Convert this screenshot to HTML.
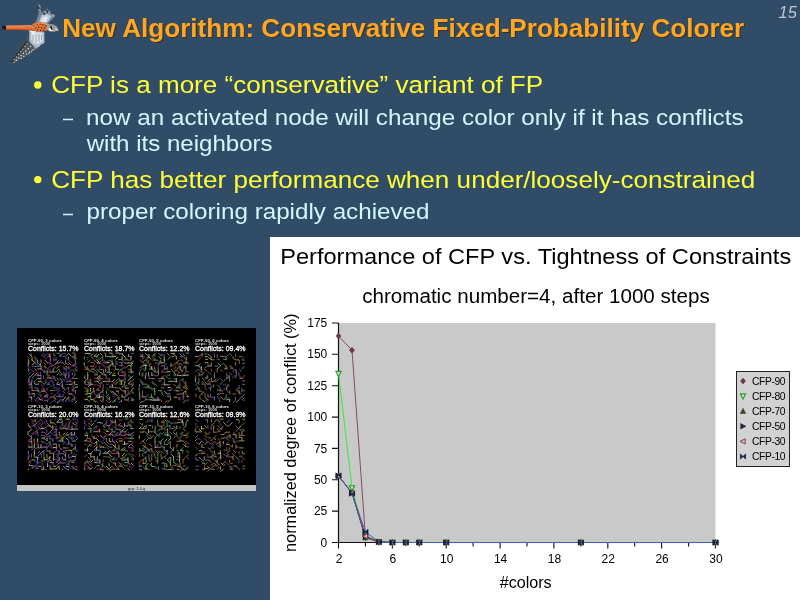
<!DOCTYPE html>
<html><head><meta charset="utf-8"><title>New Algorithm: Conservative Fixed-Probability Colorer</title>
<style>
html,body{margin:0;padding:0}
body{width:800px;height:600px;background:#314c66;overflow:hidden;position:relative;font-family:"Liberation Sans",sans-serif}
.bird{position:absolute;left:0;top:0}
.ov{position:absolute;left:0;top:0}
svg{will-change:transform}
.shot{position:absolute;left:17px;top:328px;width:239px;height:163px;background:#000}
.shot svg{position:absolute;left:0;top:0}
.bar{position:absolute;left:0;top:157px;width:239px;height:6px;background:#c4c4c4}
.chart{position:absolute;left:270px;top:237px;width:530px;height:363px;background:#fff;}
.chart svg{position:absolute;left:0;top:0}
</style></head><body>

<svg class="bird" width="66" height="68" viewBox="0 0 66 68">
<defs><filter id="bl" x="-10%" y="-10%" width="120%" height="120%"><feGaussianBlur stdDeviation=".45"/></filter></defs>
<g filter="url(#bl)">
<!-- lower wing -->
<path d="M30 32.5 L44.5 37 L43.5 41 L38.5 47 L31 53 L21 59.5 L11.5 64.5 L9.6 63.2 L14 56 L20 47 L26 39 Z" fill="#4d545c"/>
<path d="M29.3 30.5 L44.3 32 L44.5 43 L41 44.8 L38 47.5 L34 46.5 L29.3 41.5 Z" fill="#aebccb"/>
<path d="M31.5 32 L42.5 33 L42.8 41 L38 44 L33.5 43 L31.2 39 Z" fill="#dde5ec"/>
<path d="M33 35 l0 7 M36 34 l0 9 M39 34 l0 8 M41.5 35 l0 5" stroke="#8fa0b2" stroke-width=".9" fill="none"/>
<path d="M27 41 L11 62.5" stroke="#23272c" stroke-width="1.6" fill="none" opacity=".8"/>
<path d="M31 46 L14 62.5" stroke="#ece9e0" stroke-width="1.3" stroke-dasharray="1.3 2" fill="none"/>
<path d="M35.5 47.5 L19 60" stroke="#ece9e0" stroke-width="1.2" stroke-dasharray="1.2 2.3" fill="none"/>
<path d="M27.5 43.5 L13 61" stroke="#d8d8d0" stroke-width="1.1" stroke-dasharray="1 2.4" fill="none"/>
<path d="M39.5 45.5 L28 54.5" stroke="#cfd3d6" stroke-width="1.1" stroke-dasharray="1.1 2.1" fill="none"/>
<!-- upper wing -->
<path d="M35.5 23.5 L38.8 13 L37.3 3.3 L40 5 L42 10 L44.5 12.5 L46.5 8.3 L48.6 11.5 L51 10.5 L52.6 13.5 L55.3 15.6 L52 19.6 L47.5 24 Z" fill="#77879a"/>
<path d="M38.5 23 L41.5 15.5 L46 13.8 L51.5 16 L48.5 21 L45 24 Z" fill="#bfccd9"/>
<path d="M41 22 L43.5 17 L48 16.5 L46 21.5 Z" fill="#e3eaf0"/>
<path d="M38 4.5l1.2 5M40.5 8.5l2 3.5M46.8 9.2l.8 3.6M43.2 13l2 1.6M51 11.5l1 2.5" stroke="#2c3238" stroke-width="1.4" fill="none"/>
<path d="M38.8 5.4l.7 .9M39.6 9.5l.8 1M44.2 11.4l.9 1M48.8 12.6l.9 .9M52.6 15.6l1 .6M47.6 9.6l.5 .8" stroke="#f2f4f8" stroke-width="1" fill="none"/>
<!-- tail -->
<path d="M3 25.8 L33 25.3 L33 30.2 L3 29.6 Z" fill="#e8733a"/>
<path d="M5 26.3 L33 25.8" stroke="#f59a58" stroke-width="1" fill="none"/>
<path d="M5 29.3 L33 29.9" stroke="#b04a26" stroke-width="1.1" fill="none"/>
<path d="M2.4 25.7 L6 25.8 L6 29.8 L2.4 29.6 Z" fill="#17151a"/>
<!-- body -->
<ellipse cx="40" cy="27" rx="9.2" ry="4.9" fill="#de7536"/>
<path d="M33 27.5 Q40 20.5 48 25" stroke="#f0a268" stroke-width="1.2" fill="none"/>
<path d="M33.5 26h1.2M36.5 24.8h1.2M39.5 24.2h1.2M42.5 24.6h1.2M45.3 25.6h1.2M35 28.2h1.2M38 27.4h1.2M41 27.6h1.2M44 28h1.2M36.8 30.2h1.2M40 30.3h1.2M43 30.2h1.2" stroke="#4a2418" stroke-width="1.2" fill="none"/>
<!-- head -->
<path d="M47 23.6 L53 24.2 L57 26.6 L58.3 29.8 L55 31.8 L50 31.4 L46.8 29.8 Z" fill="#a49e98"/>
<path d="M48.2 24 L53 24.5 L55 26 L50 26.5 Z" fill="#7f8ea0"/>
<path d="M48.6 28 L53 28.4 L52.5 31.2 L49 30.8 Z" fill="#f4f4f4"/>
<path d="M50.6 26.4 l1.6 3.4" stroke="#17171c" stroke-width="1.5" fill="none"/>
<path d="M55 29 l3.2 1.4" stroke="#ddd6c6" stroke-width="1.3" fill="none"/>
<path d="M28.5 30.3 L36 31.6 L32.5 33.2 Z" fill="#f6f1ea"/>
</g>
</svg>
<svg class="ov" width="800" height="600" viewBox="0 0 800 600" font-family="Liberation Sans, sans-serif">
<text x="63.35" y="38.35" font-size="25" fill="#3a332b" font-weight="bold" textLength="682.03" lengthAdjust="spacingAndGlyphs">New Algorithm: Conservative Fixed-Probability Colorer</text>
<text id="title" x="62.25" y="37.25" font-size="25" fill="#ffa622" font-weight="bold" textLength="682.03" lengthAdjust="spacingAndGlyphs">New Algorithm: Conservative Fixed-Probability Colorer</text>
<text id="b1" x="51.24" y="93.4" font-size="24.5" fill="#ffff38"  textLength="491.94" lengthAdjust="spacingAndGlyphs">CFP is a more “conservative” variant of FP</text>
<text id="b2" x="86.08" y="124.5" font-size="22" fill="#d2f8ff"  textLength="657.52" lengthAdjust="spacingAndGlyphs">now an activated node will change color only if it has conflicts</text>
<text id="b2b" x="86.72" y="151" font-size="22" fill="#d2f8ff"  textLength="185.88" lengthAdjust="spacingAndGlyphs">with its neighbors</text>
<text id="b3" x="51.24" y="187.5" font-size="24.5" fill="#ffff38"  textLength="704.02" lengthAdjust="spacingAndGlyphs">CFP has better performance when under/loosely-constrained</text>
<text id="b4" x="86.50" y="219" font-size="22" fill="#d2f8ff"  textLength="343.00" lengthAdjust="spacingAndGlyphs">proper coloring rapidly achieved</text>
<circle cx="37.8" cy="85" r="3.7" fill="#ffff38"/><circle cx="37.8" cy="179.6" r="3.7" fill="#ffff38"/>
<path d="M63 119.5h10M63 214.5h10" stroke="#d2f8ff" stroke-width="1.6"/>
<text x="778.5" y="18" font-size="16.5" font-style="italic" fill="#bcc6d6">15</text>
</svg>

<div class="shot">
<svg width="239" height="163" viewBox="0 0 239 163" font-family="Liberation Sans, sans-serif">
<g fill="none" stroke-linecap="butt" opacity=".92"><path d="M24.4 28.1L27.4 25.1M42.0 28.1L45.5 28.1M17.9 34.7L20.9 37.7M11.7 37.8L11.7 41.8M45.9 41.0L49.4 41.0M36.8 56.0L36.8 59.5M36.7 62.4L39.7 62.4M42.8 71.8L46.3 71.8" stroke="#6080f0" stroke-width="1.7" opacity=".42"/>
<path d="M35.9 25.6L38.4 28.1M17.2 28.6L20.2 31.6M36.0 32.0L39.5 32.0M27.4 41.4L27.4 44.9M30.1 47.7L33.1 47.7M45.9 46.7L49.9 46.7M52.3 53.5L55.3 53.5M21.1 62.3L23.6 64.8" stroke="#f0a0c0" stroke-width="1.7" opacity=".42"/>
<path d="M54.9 25.2L58.4 25.2M36.3 41.1L38.8 38.6M46.0 38.3L49.0 41.3M33.0 41.1L33.0 45.1M23.6 71.9L26.6 71.9" stroke="#e070b0" stroke-width="1.7" opacity=".42"/>
<path d="M11.2 28.5L11.2 32.5M17.8 31.2L17.8 35.2M27.3 43.7L31.3 43.7M11.0 53.7L14.0 56.7M24.2 56.7L26.7 59.2M11.3 65.4L13.8 67.9M17.9 72.3L20.9 69.3" stroke="#8060e0" stroke-width="1.7" opacity=".42"/>
<path d="M15.1 28.7L15.1 32.7M55.3 28.1L58.3 31.1M27.0 37.8L29.5 40.3M33.4 44.0L36.4 44.0M18.1 62.5L21.6 62.5M36.3 68.7L39.3 71.7" stroke="#f0e040" stroke-width="1.7" opacity=".42"/>
<path d="M36.7 28.7L36.7 31.7M52.1 44.0L54.6 41.5M23.5 49.9L23.5 53.4M27.5 53.7L30.0 51.2M48.4 49.9L51.4 52.9M24.1 62.4L26.6 59.9M20.6 65.3L23.1 67.8M33.4 65.5L36.4 65.5M51.7 68.4L51.7 71.9M51.4 71.9L53.9 74.0" stroke="#a050c0" stroke-width="1.7" opacity=".42"/>
<path d="M30.6 41.4L30.6 45.4M57.6 40.7L60.1 43.2M42.6 50.0L45.6 53.0M11.2 56.6L15.2 56.6M45.7 59.3L48.7 62.3M54.7 62.4L57.7 59.4M12.0 62.9L12.0 66.4M17.5 65.7L17.5 69.2M27.1 68.7L30.1 68.7M49.1 71.8L52.1 68.8M39.8 75.4L42.8 72.4" stroke="#d0d0d0" stroke-width="1.7" opacity=".42"/>
<path d="M36.1 43.9L40.1 43.9M17.8 47.5L21.3 47.5M27.1 56.3L30.1 53.3M12.0 59.4L15.5 59.4M17.3 60.1L20.3 60.1M49.2 60.0L52.7 60.0M23.9 66.2L23.9 69.2M14.5 72.2L14.5 74.0" stroke="#60c060" stroke-width="1.7" opacity=".42"/>
<path d="M45.9 43.8L48.9 46.8M36.0 53.2L36.0 56.7M30.2 59.6L30.2 63.1M39.6 62.7L42.6 59.7M51.6 62.4L51.6 65.4M54.6 65.6L57.6 68.6" stroke="#b060d0" stroke-width="1.7" opacity=".42"/>
<path d="M11.7 25.7L14.7 28.7M24.1 31.5L24.1 34.5M11.2 34.4L11.2 38.4M23.4 34.8L23.4 38.3M48.8 34.5L51.3 37.0M55.3 38.2L58.3 35.2M24.1 38.0L24.1 42.0M51.9 38.4L51.9 41.4M17.5 40.6L20.0 43.1M14.8 47.2L17.3 44.7M17.7 47.2L20.2 44.7M39.5 47.4L42.0 44.9M11.9 50.6L11.9 54.6M36.5 50.2L39.5 53.2M14.3 53.2L14.3 56.7M45.6 56.1L45.6 59.6M27.4 69.0L30.4 66.0" stroke="#f0a0c0" stroke-width="1" opacity=".8"/>
<path d="M14.2 25.5L14.2 28.5M39.6 25.3L43.1 25.3M49.1 28.3L51.6 25.8M57.7 28.5L60.2 31.0M48.5 31.8L48.5 35.8M20.8 34.9L23.8 37.9M45.5 34.5L48.0 37.0M20.8 38.0L23.8 38.0M11.7 40.8L11.7 44.3M39.1 43.8L42.1 40.8M55.1 41.5L57.6 44.0M29.9 44.2L29.9 47.2M42.8 43.6L45.3 46.1M15.0 50.1L17.5 47.6M20.5 47.5L24.5 47.5M42.3 46.9L45.3 46.9M54.7 50.4L58.7 50.4M58.1 50.3L61.0 50.3M17.4 53.0L17.4 56.0M29.9 56.2L33.4 56.2M57.6 56.6L61.0 56.6M33.0 62.5L36.5 62.5" stroke="#60c060" stroke-width="1" opacity=".8"/>
<path d="M26.9 28.5L29.9 25.5M30.5 25.6L33.5 28.6M45.3 25.8L48.8 25.8M30.1 28.6L33.1 28.6M45.8 28.3L48.8 28.3M33.3 31.7L33.3 34.7M29.9 35.0L33.4 35.0M30.4 41.1L33.4 38.1M42.7 41.2L42.7 44.7M33.3 50.4L35.8 47.9M54.9 50.3L57.9 47.3M33.2 50.4L37.2 50.4M51.8 53.4L54.3 50.9M14.8 56.9L14.8 59.9M48.3 56.4L51.8 56.4M36.7 59.8L40.2 59.8M39.7 68.9L42.2 66.4M23.6 71.8L26.1 69.3M30.3 72.3L33.3 69.3M17.9 72.2L20.9 74.0M30.5 72.0L30.5 74.0" stroke="#a050c0" stroke-width="1" opacity=".8"/>
<path d="M32.9 25.2L32.9 29.2M51.3 28.7L51.3 31.7M11.8 31.7L11.8 35.7M14.7 31.8L17.2 34.3M27.5 31.8L30.5 34.8M14.8 37.4L17.8 34.4M39.7 40.7L42.7 37.7M48.5 37.9L51.0 40.4M20.7 50.6L24.2 50.6M29.8 49.9L33.8 49.9M20.8 53.7L24.8 53.7M39.4 56.1L41.9 53.6M57.6 53.2L57.6 56.2M52.0 56.4L55.5 56.4M24.1 63.2L28.1 63.2M14.3 65.7L17.8 65.7M51.5 66.0L55.0 66.0M45.8 72.1L48.8 69.1" stroke="#f0e040" stroke-width="1" opacity=".8"/>
<path d="M42.4 28.1L44.9 25.6M51.4 25.3L54.4 28.3M58.0 25.7L58.0 29.2M20.4 32.1L20.4 35.1M36.6 37.8L39.6 34.8M39.2 34.9L42.2 34.9M20.3 40.9L23.8 40.9M36.1 40.7L36.1 44.2M11.7 50.4L14.7 47.4M36.0 47.7L38.5 50.2M48.3 47.0L48.3 50.0M17.9 56.2L21.9 56.2M39.6 56.6L43.1 56.6M57.9 59.2L61.0 59.2M11.9 69.2L14.9 69.2M14.7 68.7L14.7 71.7M21.2 69.2L23.7 71.7M55.3 72.1L58.3 69.1M57.6 75.3L60.1 72.8" stroke="#d0d0d0" stroke-width="1" opacity=".8"/>
<path d="M26.7 28.2L29.7 31.2M49.0 28.5L49.0 31.5M39.4 34.7L42.4 31.7M42.4 34.7L44.9 32.2M32.8 34.7L35.3 37.2M42.8 34.8L46.3 34.8M15.1 38.3L18.1 38.3M33.1 37.9L36.6 37.9M54.9 37.8L57.9 37.8M21.1 44.5L21.1 48.5M57.9 44.5L57.9 48.0M24.0 46.7L24.0 50.2M26.7 47.6L26.7 51.1M51.8 46.8L51.8 50.8M24.4 53.7L27.4 56.7M45.2 53.0L45.2 57.0M49.0 53.7L52.5 53.7M54.7 59.6L57.7 56.6M15.1 59.5L15.1 63.0M45.6 62.8L48.6 65.8M58.5 62.9L58.5 65.9M42.8 65.5L42.8 69.5M57.8 69.3L57.8 72.8M11.2 72.1L11.2 74.0M21.1 71.8L24.1 71.8M26.9 72.3L29.9 72.3M36.1 71.8L39.1 74.0" stroke="#b060d0" stroke-width="1" opacity=".8"/>
<path d="M33.3 28.4L33.3 32.4M58.4 31.3L58.4 34.8M26.7 34.6L29.2 37.1M51.4 34.4L54.4 37.4M57.8 37.9L60.3 40.4M14.1 41.5L16.6 44.0M23.7 40.5L26.7 43.5M55.3 44.3L55.3 47.3M54.5 56.1L57.0 53.6M27.0 60.0L27.0 63.0M14.6 62.5L18.1 62.5M27.5 62.6L30.0 65.1M55.1 62.8L59.1 62.8M36.2 68.5L38.7 66.0M32.9 69.1L35.9 69.1" stroke="#e070b0" stroke-width="1" opacity=".8"/>
<path d="M39.1 29.1L39.1 32.1M57.8 37.6L60.3 35.1M49.2 40.5L49.2 44.5M48.3 47.2L51.3 44.2M18.2 52.8L21.2 49.8M39.7 49.9L42.2 52.4M45.4 50.3L48.4 53.3M30.2 56.4L33.2 53.4M42.6 56.5L45.1 59.0M20.9 59.6L20.9 63.6M39.7 65.6L42.7 62.6M42.0 68.8L46.0 68.8M46.0 71.6L46.0 74.0M48.9 72.0L48.9 74.0" stroke="#6080f0" stroke-width="1" opacity=".8"/>
<path d="M51.3 31.8L54.3 34.8M17.8 38.4L21.3 38.4M11.2 46.8L13.7 44.3M23.4 43.6L23.4 47.1M52.0 44.2L52.0 48.2M15.0 50.6L15.0 54.6M32.9 52.9L35.9 52.9M42.7 56.2L45.7 53.2M32.7 59.6L35.2 57.1M51.5 59.4L51.5 62.4M30.6 65.9L30.6 69.9M46.1 65.7L46.1 68.7M39.4 68.6L43.4 68.6M33.3 75.4L36.3 72.4M55.1 71.7L55.1 74.0" stroke="#8060e0" stroke-width="1" opacity=".8"/></g>
<text x="11" y="13.5" font-size="3.8" font-weight="bold" fill="#e8e8e8" textLength="34" lengthAdjust="spacingAndGlyphs">CFP-90, 3 colors</text>
<text x="11" y="16.7" font-size="3" font-weight="bold" fill="#ddd" textLength="22" lengthAdjust="spacingAndGlyphs">steps: 1000</text>
<text x="11" y="23.1" font-size="7.7" fill="#fff" stroke="#fff" stroke-width=".3" textLength="50.5" lengthAdjust="spacingAndGlyphs">Conflicts: 15.7%</text>
<g fill="none" stroke-linecap="butt" opacity=".92"><path d="M95.4 25.5L95.4 29.5M102.0 25.9L106.0 25.9M114.1 35.2L116.6 32.7M98.2 34.4L100.7 36.9M79.8 41.0L82.8 44.0M98.2 56.7L101.2 53.7M111.2 56.1L115.2 56.1M110.9 65.5L113.9 65.5M73.6 68.7L73.6 71.7" stroke="#80e0a0" stroke-width="1.7" opacity=".42"/>
<path d="M70.3 28.4L70.3 31.9M98.2 32.1L100.7 34.6M105.0 41.0L108.0 38.0M104.5 41.2L104.5 45.2M70.7 50.5L70.7 54.5M89.1 50.6L93.1 50.6M92.1 59.4L95.1 56.4M77.3 65.4L79.8 67.9M95.1 68.5L98.6 68.5" stroke="#a060c0" stroke-width="1.7" opacity=".42"/>
<path d="M79.7 28.8L82.7 31.8M89.3 34.9L91.8 32.4M95.2 31.4L95.2 34.4M76.9 46.9L80.9 46.9M111.3 46.8L114.3 49.8M70.8 60.0L70.8 63.5M89.5 69.2L92.0 71.7" stroke="#60d060" stroke-width="1.7" opacity=".42"/>
<path d="M108.3 28.6L108.3 32.6M108.1 31.4L111.1 31.4M74.0 41.1L77.5 41.1M92.2 41.0L92.2 45.0M104.8 59.7L107.8 56.7M113.7 62.7L116.7 65.7M79.5 68.6L82.0 66.1M108.2 68.8L111.2 65.8M98.1 72.3L98.1 74.0" stroke="#d0d0d0" stroke-width="1.7" opacity=".42"/>
<path d="M92.6 38.1L95.6 35.1M67.8 47.4L67.8 50.9M73.4 50.8L73.4 53.8M80.2 49.9L83.2 52.9M70.9 53.9L73.9 56.9M104.5 69.0L107.5 69.0" stroke="#f0f0a0" stroke-width="1.7" opacity=".42"/>
<path d="M67.2 37.8L70.2 40.8M110.7 41.5L114.2 41.5M104.8 44.4L108.3 44.4M104.6 47.3L108.6 47.3M73.7 53.6L73.7 57.6M77.3 53.4L81.3 53.4M83.0 56.3L85.5 53.8M79.4 62.6L81.9 60.1" stroke="#f0a0b0" stroke-width="1.7" opacity=".42"/>
<path d="M82.7 37.7L82.7 41.2M86.3 37.5L89.3 40.5M76.7 44.0L79.7 47.0M111.0 44.2L114.5 44.2M67.3 63.2L71.3 63.2M86.2 65.8L86.2 68.8" stroke="#c06080" stroke-width="1.7" opacity=".42"/>
<path d="M70.9 40.7L73.9 43.7M95.7 47.0L98.2 44.5M114.3 62.4L116.8 59.9M70.5 62.4L70.5 66.4M107.9 71.9L110.9 71.9" stroke="#e0e050" stroke-width="1.7" opacity=".42"/>
<path d="M85.7 44.1L88.7 47.1M76.6 50.3L79.6 50.3M92.7 53.7L95.7 53.7M114.5 56.8L117.0 54.3M76.3 57.0L79.3 57.0M83.3 56.4L83.3 59.9M111.4 62.3L111.4 65.8M86.2 71.6L86.2 74.0" stroke="#e06060" stroke-width="1.7" opacity=".42"/>
<path d="M67.9 25.5L71.9 25.5M70.6 25.8L74.1 25.8M76.8 28.3L80.3 28.3M111.0 35.0L115.0 35.0M113.6 37.4L116.1 34.9M111.3 37.7L114.8 37.7M114.2 41.4L114.2 45.4M70.7 46.9L70.7 50.4M94.9 47.6L98.9 47.6M95.2 53.7L97.7 51.2M89.2 53.3L93.2 53.3M101.7 53.0L105.7 53.0M104.4 53.0L104.4 57.0M95.5 56.4L95.5 59.4M67.5 59.2L70.0 61.7M73.5 60.0L73.5 63.5M105.0 66.2L105.0 69.2M70.5 68.6L74.0 68.6M67.3 71.6L70.8 71.6M73.6 71.6L77.1 71.6M76.5 72.4L79.0 74.0" stroke="#e0e050" stroke-width="1" opacity=".8"/>
<path d="M73.4 28.4L76.4 25.4M79.5 28.8L82.5 25.8M83.3 25.2L85.8 27.7M92.6 31.9L95.1 34.4M67.2 34.3L67.2 37.3M98.5 41.3L102.0 41.3M92.1 47.1L95.1 44.1M82.8 47.1L82.8 50.6M113.6 50.2L116.1 47.7M80.0 53.1L82.5 55.6M98.8 63.1L101.8 63.1M108.2 62.9L108.2 66.4M82.5 66.3L82.5 70.3M82.8 68.9L85.8 68.9M82.9 71.7L85.4 74.0" stroke="#d0d0d0" stroke-width="1" opacity=".8"/>
<path d="M76.9 28.4L79.9 25.4M88.7 25.6L88.7 29.1M67.3 28.3L67.3 31.3M89.4 28.6L93.4 28.6M92.5 28.8L96.0 28.8M101.3 31.6L104.3 31.6M70.8 43.7L70.8 47.7M101.3 43.9L101.3 46.9M86.5 46.9L89.5 46.9M104.7 53.6L107.2 51.1M107.7 53.0L107.7 56.5M73.4 56.3L76.4 56.3M107.6 59.6L110.1 57.1M89.6 62.7L89.6 65.7M92.7 62.4L95.7 65.4M67.8 66.1L70.8 66.1M89.0 68.8L92.0 65.8M102.0 69.1L102.0 72.1M113.9 69.3L116.9 72.3M95.3 74.7L98.3 71.7" stroke="#80e0a0" stroke-width="1" opacity=".8"/>
<path d="M86.5 25.2L89.5 25.2M104.8 31.7L107.8 34.7M73.6 34.5L76.6 34.5M77.2 34.5L77.2 37.5M83.3 34.8L86.3 37.8M85.6 34.8L89.6 34.8M76.9 40.6L79.9 37.6M95.2 38.0L98.2 38.0M95.6 40.8L98.1 43.3M108.2 49.9L108.2 52.9M95.9 55.9L98.9 52.9M80.3 56.1L82.8 58.6M80.3 62.3L83.3 62.3M80.0 72.5L80.0 74.0M111.1 72.4L111.1 74.0" stroke="#c06080" stroke-width="1" opacity=".8"/>
<path d="M91.9 25.2L95.4 25.2M98.7 25.0L102.7 25.0M111.4 25.9L111.4 28.9M77.0 31.8L80.0 34.8M107.4 35.0L111.4 35.0M73.4 38.3L76.9 38.3M108.1 40.6L111.1 37.6M86.6 41.4L86.6 44.4M88.7 40.7L88.7 44.2M113.6 44.0L117.0 44.0M68.0 53.1L71.0 50.1M101.4 50.0L103.9 52.5M85.9 53.5L89.4 53.5M110.9 56.1L113.9 53.1M113.5 59.3L116.5 56.3M76.6 59.6L76.6 62.6M105.2 62.9L109.2 62.9M71.1 65.4L74.6 65.4M86.2 68.7L86.2 72.2M92.4 68.4L92.4 72.4M92.2 75.1L94.7 72.6M104.5 71.7L104.5 74.0" stroke="#f0a0b0" stroke-width="1" opacity=".8"/>
<path d="M104.9 25.9L107.9 28.9M95.7 28.3L99.2 28.3M98.7 31.4L101.2 28.9M105.1 28.2L105.1 32.2M114.0 28.2L114.0 31.7M79.4 31.4L82.4 34.4M79.8 35.1L83.3 35.1M89.2 34.7L92.7 34.7M95.9 34.4L95.9 37.4M92.0 37.5L92.0 41.5M83.2 43.9L86.2 46.9M79.7 50.6L82.2 48.1M110.7 53.0L113.7 50.0M67.9 52.9L67.9 55.9M70.8 59.1L73.3 56.6M101.9 59.4L104.9 62.4M107.8 60.1L111.8 60.1M74.1 65.5L77.1 62.5M82.6 65.8L85.6 62.8M95.1 62.8L98.1 65.8M98.3 65.7L100.8 68.2M79.7 69.3L83.2 69.3M113.7 72.1L116.7 72.1" stroke="#f0f0a0" stroke-width="1" opacity=".8"/>
<path d="M114.2 25.4L117.0 25.4M82.6 34.7L85.6 31.7M86.2 31.7L89.2 34.7M110.4 32.1L113.9 32.1M101.9 34.7L105.9 34.7M89.5 38.2L92.0 40.7M101.9 37.6L105.4 37.6M74.1 43.8L77.1 43.8M80.2 44.1L80.2 47.1M89.2 46.9L89.2 50.9M107.8 47.5L107.8 50.5M92.3 50.3L92.3 53.3M98.8 53.3L101.3 50.8M68.0 56.6L72.0 56.6M86.3 56.2L86.3 59.7M89.2 56.2L92.2 56.2M95.5 59.4L99.0 59.4M85.9 62.6L85.9 65.6M101.5 62.6L101.5 65.6M95.7 66.3L98.7 66.3M107.7 68.5L107.7 72.5M111.4 69.1L111.4 72.6M88.8 72.0L91.3 74.0M101.8 75.0L104.8 72.0" stroke="#a060c0" stroke-width="1" opacity=".8"/>
<path d="M74.1 28.6L76.6 31.1M83.0 31.3L86.0 28.3M111.0 28.2L114.5 28.2M70.5 34.8L73.5 31.8M104.9 34.9L104.9 38.4M98.4 37.5L98.4 41.5M114.0 38.2L114.0 41.7M76.9 41.2L79.9 44.2M82.8 41.5L85.8 41.5M101.6 43.6L104.6 40.6M89.6 44.3L93.6 44.3M114.1 53.8L117.0 50.8M85.9 59.5L85.9 63.0M92.1 59.2L95.6 59.2M73.3 65.3L73.3 68.8M70.7 72.0L73.2 74.0" stroke="#60d060" stroke-width="1" opacity=".8"/>
<path d="M85.6 29.0L85.6 32.5M70.4 38.1L70.4 42.1M67.1 41.3L70.1 41.3M108.2 44.6L108.2 47.6M102.1 47.5L105.6 47.5M82.7 50.6L86.2 50.6M101.8 56.0L105.8 56.0M89.3 59.5L91.8 62.0M98.1 60.0L101.1 60.0M77.2 62.4L77.2 65.4M68.0 72.3L70.5 69.8M76.6 71.5L79.6 68.5M98.6 71.6L101.6 68.6" stroke="#e06060" stroke-width="1" opacity=".8"/></g>
<text x="67" y="13.5" font-size="3.8" font-weight="bold" fill="#e8e8e8" textLength="34" lengthAdjust="spacingAndGlyphs">CFP-90, 4 colors</text>
<text x="67" y="16.7" font-size="3" font-weight="bold" fill="#ddd" textLength="22" lengthAdjust="spacingAndGlyphs">steps: 1000</text>
<text x="67" y="23.1" font-size="7.7" fill="#fff" stroke="#fff" stroke-width=".3" textLength="50.5" lengthAdjust="spacingAndGlyphs">Conflicts: 18.7%</text>
<g fill="none" stroke-linecap="butt" opacity=".92"><path d="M131.9 25.9L131.9 29.9M166.2 34.6L170.2 34.6M169.5 35.2L172.0 35.2M134.8 53.7L137.8 56.7M166.4 66.1L166.4 70.1M122.6 68.9L122.6 71.9M141.3 68.7L141.3 71.7" stroke="#d0d0d0" stroke-width="1.7" opacity=".42"/>
<path d="M143.8 25.6L146.3 28.1M147.4 25.5L147.4 29.0M125.1 31.3L128.1 28.3M143.9 31.5L143.9 35.0M165.5 40.7L165.5 44.2M131.7 47.5L131.7 50.5M166.1 53.4L168.6 55.9M125.7 59.3L129.7 59.3M138.2 72.1L141.2 69.1M162.9 68.8L162.9 72.3M125.6 74.7L128.1 72.2" stroke="#9070d0" stroke-width="1.7" opacity=".42"/>
<path d="M128.5 32.0L131.5 29.0M141.3 35.2L143.8 32.7M122.9 40.4L125.9 37.4M160.1 41.0L163.1 38.0M163.2 41.2L165.7 43.7M166.1 47.4L168.6 44.9M144.3 50.4L146.8 47.9M144.0 59.6L147.5 59.6M150.5 74.5L153.0 72.0M166.1 75.0L169.1 72.0" stroke="#c0c060" stroke-width="1.7" opacity=".42"/>
<path d="M131.4 31.9L131.4 35.9M131.8 37.7L134.3 35.2M156.4 37.5L159.4 34.5M159.8 34.6L162.3 37.1M165.6 60.0L168.6 57.0M156.9 62.4L160.4 62.4" stroke="#e09040" stroke-width="1.7" opacity=".42"/>
<path d="M135.4 32.0L138.4 32.0M153.8 35.3L153.8 38.8M166.2 40.4L168.7 37.9M138.3 41.2L138.3 44.2M125.5 44.5L125.5 48.5M135.0 69.2L138.0 72.2M149.9 68.4L153.9 68.4" stroke="#f0f0a0" stroke-width="1.7" opacity=".42"/>
<path d="M126.0 34.8L128.5 37.3M135.0 50.6L138.5 50.6M150.8 50.6L154.3 50.6M165.9 50.3L165.9 53.3M129.2 56.0L132.2 59.0M163.0 56.9L163.0 60.9M134.6 62.4L137.1 59.9" stroke="#60c070" stroke-width="1.7" opacity=".42"/>
<path d="M129.0 35.2L129.0 38.2M153.4 37.5L156.4 37.5M156.7 44.4L159.7 41.4M156.2 47.3L159.2 47.3M125.4 53.2L125.4 57.2" stroke="#70c0c0" stroke-width="1.7" opacity=".42"/>
<path d="M162.6 34.8L165.6 37.8M156.6 41.2L159.1 38.7M144.2 44.2L148.2 44.2M147.5 44.2L150.5 44.2M168.9 43.7L172.0 43.7M162.6 53.8L162.6 57.3M159.6 68.7L162.6 71.7M166.3 68.7L166.3 72.2M169.5 72.4L172.0 72.4" stroke="#e07070" stroke-width="1.7" opacity=".42"/>
<path d="M122.6 25.7L125.6 28.7M122.7 28.5L126.2 28.5M125.4 34.5L127.9 32.0M143.9 37.9L147.4 37.9M159.2 41.5L162.2 44.5M159.8 47.1L162.8 44.1M132.2 50.5L136.2 50.5M141.2 50.7L144.7 50.7M168.8 53.4L168.8 56.9M149.9 56.7L153.4 56.7M125.3 65.9L125.3 69.4M144.7 72.1L144.7 74.0M147.4 75.4L150.4 72.4" stroke="#e07070" stroke-width="1" opacity=".8"/>
<path d="M125.7 25.7L125.7 29.7M141.5 25.2L144.5 28.2M162.5 25.4L165.5 28.4M165.5 25.5L168.5 28.5M168.7 25.1L172.0 25.1M134.6 40.7L137.6 43.7M122.5 44.0L122.5 47.5M129.1 44.3L129.1 47.3M134.4 47.1L137.4 47.1M156.8 50.8L159.8 50.8M150.9 53.4L154.9 53.4M157.0 53.6L160.5 53.6M122.6 56.2L122.6 59.2M132.1 60.1L135.1 60.1M141.2 62.6L144.7 62.6M134.4 65.8L134.4 69.3M150.3 65.8L153.3 65.8M140.8 71.9L143.8 71.9" stroke="#70c0c0" stroke-width="1" opacity=".8"/>
<path d="M128.6 25.5L131.1 28.0M135.0 28.6L137.5 26.1M153.8 25.4L157.8 25.4M141.5 28.2L144.5 31.2M150.8 31.6L153.3 29.1M140.8 37.5L143.8 34.5M143.7 34.8L147.7 34.8M126.0 37.5L130.0 37.5M132.2 37.6L134.7 40.1M163.1 38.1L163.1 41.6M126.0 40.6L128.5 43.1M128.4 47.1L128.4 51.1M166.2 47.4L169.7 47.4M169.1 47.1L172.0 47.1M144.1 50.6L147.1 50.6M159.3 50.4L159.3 54.4M147.4 56.8L150.4 56.8M159.3 62.9L162.3 62.9M122.7 65.6L122.7 69.1M125.4 68.8L128.4 68.8M156.7 69.3L159.7 69.3M169.5 68.7L172.0 68.7M123.0 75.3L125.5 72.8M134.7 72.2L138.7 72.2" stroke="#d0d0d0" stroke-width="1" opacity=".8"/>
<path d="M137.9 25.2L137.9 28.7M166.4 28.7L169.4 31.7M169.3 28.7L169.3 31.7M122.9 31.6L125.9 34.6M137.6 38.4L137.6 41.4M153.7 40.7L156.2 43.2M141.6 43.9L141.6 47.4M122.9 53.0L125.4 55.5M156.6 56.1L159.1 58.6M128.7 59.2L132.2 59.2M166.4 60.0L169.9 60.0M168.7 62.4L171.2 59.9M159.3 66.2L163.3 66.2M163.3 65.7L167.3 65.7M169.1 66.1L172.0 69.1" stroke="#e09040" stroke-width="1" opacity=".8"/>
<path d="M150.1 25.2L152.6 27.7M135.4 28.7L138.4 31.7M159.3 28.7L159.3 31.7M128.3 31.9L130.8 34.4M147.4 31.5L147.4 34.5M159.3 34.9L162.3 31.9M169.1 31.4L169.1 35.4M169.0 38.3L169.0 41.3M131.9 41.1L135.4 41.1M141.3 41.2L141.3 45.2M147.3 40.9L150.3 40.9M131.6 44.1L131.6 48.1M134.8 44.0L134.8 48.0M159.8 47.5L163.8 47.5M163.1 47.7L166.1 47.7M141.3 53.0L144.3 53.0M147.6 53.8L147.6 57.3M153.7 53.2L157.7 53.2M169.2 56.9L169.2 59.9M122.1 59.7L122.1 62.7M137.6 60.0L137.6 64.0M159.3 59.8L162.8 59.8M137.8 63.1L137.8 67.1M143.8 63.2L146.3 65.7M168.9 62.6L168.9 65.6M128.9 69.4L128.9 72.4M153.7 69.2L153.7 72.2" stroke="#c0c060" stroke-width="1" opacity=".8"/>
<path d="M156.4 25.8L159.4 28.8M131.3 28.4L134.3 31.4M147.2 28.8L147.2 32.8M128.7 38.3L128.7 41.8M134.8 38.2L134.8 41.7M150.1 43.7L153.6 43.7M156.5 44.4L159.0 46.9M150.7 59.5L153.7 59.5M147.3 63.1L150.3 66.1M166.0 65.3L168.5 62.8M132.2 71.8L135.2 71.8M138.3 72.1L142.3 72.1" stroke="#f0f0a0" stroke-width="1" opacity=".8"/>
<path d="M153.6 28.4L157.1 28.4M138.4 32.2L141.4 32.2M147.2 37.7L149.7 35.2M147.7 47.0L150.7 50.0M150.1 47.2L153.1 47.2M163.3 53.2L165.8 50.7M125.8 56.1L129.3 56.1M131.8 56.8L131.8 59.8M138.1 56.0L140.6 58.5M159.7 59.4L162.2 56.9M153.1 62.4L155.6 59.9M122.4 63.2L122.4 66.7M125.5 62.6L125.5 65.6M144.4 65.5L146.9 68.0M131.5 69.2L135.5 69.2" stroke="#60c070" stroke-width="1" opacity=".8"/>
<path d="M162.8 28.7L166.8 28.7M163.3 32.2L166.3 32.2M137.8 35.1L140.8 35.1M141.2 38.2L141.2 41.2M147.6 37.8L147.6 41.8M150.2 38.1L150.2 42.1M122.3 43.6L124.8 41.1M144.4 43.8L146.9 41.3M168.8 40.8L168.8 44.3M137.5 44.0L141.0 44.0M137.7 47.7L141.2 47.7M122.1 50.8L124.6 53.3M147.7 50.5L147.7 53.5M144.5 56.2L147.5 56.2M150.7 62.4L154.7 62.4M163.2 62.2L166.2 62.2M129.1 69.0L131.6 66.5M128.8 71.6L131.8 71.6" stroke="#9070d0" stroke-width="1" opacity=".8"/></g>
<text x="122" y="13.5" font-size="3.8" font-weight="bold" fill="#e8e8e8" textLength="34" lengthAdjust="spacingAndGlyphs">CFP-90, 5 colors</text>
<text x="122" y="16.7" font-size="3" font-weight="bold" fill="#ddd" textLength="22" lengthAdjust="spacingAndGlyphs">steps: 1000</text>
<text x="122" y="23.1" font-size="7.7" fill="#fff" stroke="#fff" stroke-width=".3" textLength="50.5" lengthAdjust="spacingAndGlyphs">Conflicts: 12.2%</text>
<g fill="none" stroke-linecap="butt" opacity=".92"><path d="M181.8 28.9L184.8 25.9M191.2 35.1L191.2 38.6M221.9 47.6L224.9 50.6M225.5 50.0L228.0 47.0M196.6 53.1L199.6 53.1M188.1 72.0L192.1 72.0M225.3 72.1L228.0 72.1" stroke="#c07070" stroke-width="1.7" opacity=".42"/>
<path d="M209.1 28.7L209.1 32.2M215.6 28.9L218.6 31.9M212.8 37.6L215.8 40.6M209.6 50.1L212.1 47.6M184.6 66.1L187.1 63.6M181.8 69.0L184.3 71.5" stroke="#e0c050" stroke-width="1.7" opacity=".42"/>
<path d="M181.3 37.7L184.3 40.7M190.6 38.1L194.6 38.1M206.8 40.7L210.8 40.7M219.2 41.2L219.2 44.7M209.2 59.4L212.2 56.4M202.9 62.6L205.9 62.6M200.0 66.2L203.0 66.2" stroke="#d0d0b0" stroke-width="1.7" opacity=".42"/>
<path d="M197.4 38.1L200.9 38.1M203.0 56.6L205.5 54.1M178.5 62.2L181.0 59.7M200.0 62.3L203.5 62.3M222.1 71.6L225.1 68.6" stroke="#70b070" stroke-width="1.7" opacity=".42"/>
<path d="M224.6 41.1L227.6 38.1M184.6 53.0L187.1 55.5M191.1 60.0L194.1 60.0M203.0 59.9L203.0 62.9M182.0 68.7L185.0 65.7" stroke="#a070c0" stroke-width="1.7" opacity=".42"/>
<path d="M212.7 40.6L216.7 40.6M182.1 46.9L186.1 46.9M224.8 52.9L228.0 52.9M194.2 57.0L194.2 60.0M206.0 56.5L209.5 56.5M221.5 65.4L225.0 65.4M200.4 68.6L202.9 71.1" stroke="#8080c0" stroke-width="1.7" opacity=".42"/>
<path d="M178.6 47.3L178.6 50.8M190.7 56.3L193.7 53.3M188.3 56.1L188.3 59.6M224.5 62.7L228.0 62.7" stroke="#c0a060" stroke-width="1.7" opacity=".42"/>
<path d="M185.1 25.1L185.1 28.6M178.0 28.6L181.5 28.6M191.0 28.7L194.0 31.7M203.2 28.3L206.7 28.3M188.1 31.4L191.1 31.4M218.5 31.9L222.0 31.9M218.6 34.4L218.6 37.4M187.5 40.9L190.0 43.4M184.5 47.2L187.5 44.2M197.4 47.1L197.4 50.1M190.5 53.6L193.5 50.6M182.0 59.2L182.0 62.2M209.7 59.4L209.7 62.4M222.1 62.4L222.1 65.9M225.1 68.8L227.6 66.3M188.3 69.2L190.8 71.7M185.1 71.9L188.1 74.0" stroke="#e0c050" stroke-width="1" opacity=".8"/>
<path d="M187.3 26.0L190.3 26.0M209.5 28.7L212.0 26.2M218.6 25.7L218.6 28.7M178.9 34.9L181.4 32.4M206.2 31.4L210.2 31.4M203.5 37.9L206.0 35.4M206.3 35.3L209.3 38.3M187.6 40.5L190.1 38.0M178.1 44.2L181.1 41.2M191.1 43.7L194.1 46.7M190.7 47.2L190.7 50.2M182.0 49.9L182.0 53.4M187.7 50.1L191.2 50.1M212.6 50.1L212.6 53.6M181.7 53.4L181.7 56.9M184.3 56.0L187.8 56.0M193.6 60.0L193.6 63.0M188.1 65.4L188.1 69.4M191.0 65.7L191.0 68.7M209.1 65.9L209.1 69.4M215.3 66.0L218.8 66.0M209.5 71.9L212.0 69.4M216.1 74.7L218.6 72.2" stroke="#70b070" stroke-width="1" opacity=".8"/>
<path d="M191.1 25.9L194.1 28.9M187.8 28.7L190.8 28.7M194.1 28.8L194.1 31.8M181.1 38.1L183.6 35.6M187.7 34.7L191.2 34.7M194.2 34.6L194.2 38.1M200.7 34.8L203.7 37.8M178.1 37.8L181.6 37.8M184.4 38.3L184.4 42.3M200.3 41.0L203.3 38.0M209.2 38.1L209.2 41.1M178.4 50.3L178.4 54.3M219.2 62.3L221.7 59.8M203.4 68.5L206.4 71.5M206.6 72.1L209.6 69.1M209.6 71.7L213.6 71.7M212.6 72.1L212.6 74.0M219.0 74.7L222.0 71.7" stroke="#d0d0b0" stroke-width="1" opacity=".8"/>
<path d="M197.4 25.6L197.4 29.6M181.4 32.0L183.9 29.5M221.7 28.4L225.7 28.4M222.4 32.1L222.4 36.1M184.8 41.0L184.8 45.0M194.4 40.8L194.4 43.8M203.4 41.3L205.9 43.8M222.3 41.3L224.8 43.8M209.8 44.5L209.8 48.0M199.8 53.4L202.3 50.9M206.7 53.2L209.7 50.2M222.3 50.4L226.3 50.4M212.8 62.3L212.8 66.3M219.2 62.9L222.2 62.9M203.4 65.5L206.9 65.5M190.5 68.7L194.0 68.7M218.5 69.0L218.5 72.0" stroke="#c07070" stroke-width="1" opacity=".8"/>
<path d="M200.2 25.8L200.2 29.8M212.5 25.3L215.5 28.3M215.5 44.0L218.5 41.0M219.3 43.7L219.3 47.7M188.0 50.4L190.5 47.9M212.6 46.8L212.6 50.3M184.9 49.8L187.9 52.8M194.5 49.9L194.5 52.9M197.4 53.0L199.9 50.5M178.6 56.6L181.6 53.6M190.7 56.1L194.2 56.1M187.6 59.8L190.1 62.3M206.5 62.1L209.0 59.6M224.8 59.8L224.8 63.8M225.0 71.8L227.5 69.3" stroke="#a070c0" stroke-width="1" opacity=".8"/>
<path d="M206.6 28.7L209.6 28.7M224.8 31.9L227.3 29.4M199.8 31.3L202.8 31.3M224.8 32.1L228.0 32.1M181.7 41.4L184.7 44.4M197.4 44.2L197.4 47.7M212.6 44.4L215.1 46.9M221.8 44.2L221.8 47.2M215.3 50.2L218.3 47.2M218.8 47.6L218.8 50.6M203.3 50.7L206.3 53.7M209.0 49.9L212.0 49.9M178.7 56.8L181.2 59.3M222.1 56.9L222.1 60.9M224.8 56.3L228.0 56.3M209.7 62.3L212.7 65.3M193.6 65.5L193.6 69.0M194.4 69.2L198.4 69.2M197.4 68.7L197.4 72.7M202.8 71.6L202.8 74.0" stroke="#8080c0" stroke-width="1" opacity=".8"/>
<path d="M194.2 31.8L197.7 31.8M225.3 35.3L228.0 35.3M200.2 40.5L200.2 44.5M182.0 44.3L182.0 48.3M187.8 53.8L190.8 56.8M194.2 53.6L197.2 53.6M196.6 56.5L196.6 59.5M200.4 56.7L203.4 59.7M181.6 63.1L185.1 63.1M178.9 65.6L178.9 69.1" stroke="#c0a060" stroke-width="1" opacity=".8"/></g>
<text x="178" y="13.5" font-size="3.8" font-weight="bold" fill="#e8e8e8" textLength="34" lengthAdjust="spacingAndGlyphs">CFP-90, 6 colors</text>
<text x="178" y="16.7" font-size="3" font-weight="bold" fill="#ddd" textLength="22" lengthAdjust="spacingAndGlyphs">steps: 1000</text>
<text x="178" y="23.1" font-size="7.7" fill="#fff" stroke="#fff" stroke-width=".3" textLength="50.5" lengthAdjust="spacingAndGlyphs">Conflicts: 09.4%</text>
<g fill="none" stroke-linecap="butt" opacity=".92"><path d="M14.4 91.7L16.9 94.2M14.7 106.7L17.2 104.2M51.9 107.0L54.4 104.5M39.5 107.4L39.5 111.4M20.4 113.1L20.4 117.1M11.8 116.5L11.8 119.5M39.5 125.6L42.0 128.1M42.0 134.9L46.0 134.9" stroke="#e070b0" stroke-width="1.7" opacity=".42"/>
<path d="M33.6 91.3L33.6 94.8M11.0 103.6L11.0 107.1M17.2 110.4L17.2 113.4M46.0 119.8L49.0 119.8M17.4 125.3L17.4 129.3M29.8 126.0L29.8 130.0M36.7 140.8L40.2 140.8" stroke="#f0f040" stroke-width="1.7" opacity=".42"/>
<path d="M36.5 91.5L39.5 91.5M58.1 94.6L61.0 91.6M49.0 94.6L49.0 98.1M32.9 119.3L35.9 116.3M14.2 122.2L17.2 119.2M33.6 119.8L37.1 119.8M20.8 134.5L24.3 134.5M24.2 135.2L26.7 137.7M30.6 137.5L34.6 137.5M55.1 140.9L58.1 140.9" stroke="#8060e0" stroke-width="1.7" opacity=".42"/>
<path d="M51.8 94.5L54.3 92.0M18.0 106.7L21.0 103.7M27.0 110.0L30.0 107.0M52.2 116.1L55.2 116.1M48.2 119.8L52.2 119.8M39.6 122.9L42.6 122.9M58.4 128.8L58.4 132.8" stroke="#b060d0" stroke-width="1.7" opacity=".42"/>
<path d="M33.1 94.9L37.1 94.9M11.2 97.2L14.2 100.2M45.4 100.8L48.4 97.8M55.0 97.4L55.0 101.4M42.6 100.6L46.1 100.6M39.7 109.7L42.7 109.7M42.1 116.1L42.1 119.1M30.0 123.0L33.5 123.0M33.0 122.3L33.0 126.3M54.5 122.8L54.5 126.3M51.8 134.5L54.3 132.0M33.2 137.8L33.2 141.8M54.9 138.0L57.4 140.5" stroke="#f0e040" stroke-width="1.7" opacity=".42"/>
<path d="M45.5 94.9L45.5 97.9M30.2 97.8L33.7 97.8M32.7 107.5L32.7 111.5M54.8 106.9L58.3 106.9M42.2 113.0L45.2 110.0M26.7 122.3L26.7 126.3M42.4 122.9L42.4 126.4M46.1 122.7L49.1 125.7M30.2 134.3L32.7 131.8M39.3 134.6L42.3 131.6M45.6 135.0L48.6 135.0" stroke="#c0c0f0" stroke-width="1.7" opacity=".42"/>
<path d="M17.2 97.9L20.2 100.9M39.0 98.1L39.0 102.1M21.1 100.9L25.1 100.9M20.8 104.3L20.8 108.3M33.3 110.2L36.3 113.2M54.8 109.6L54.8 112.6M39.8 113.0L43.3 113.0M45.6 116.4L48.6 113.4M48.4 116.4L51.9 116.4M29.8 119.9L29.8 123.4M58.3 122.5L61.0 122.5M17.4 132.2L20.4 135.2M51.4 138.0L53.9 140.5M39.4 141.5L39.4 142.0" stroke="#6080f0" stroke-width="1.7" opacity=".42"/>
<path d="M14.5 113.2L14.5 116.2M26.5 119.1L30.5 119.1M54.4 134.6L57.4 131.6M14.6 140.7L17.6 137.7" stroke="#d0d0d0" stroke-width="1.7" opacity=".42"/>
<path d="M18.1 91.1L18.1 94.1M39.9 94.2L42.9 91.2M45.1 91.8L45.1 94.8M17.3 97.3L20.3 94.3M32.8 97.5L35.3 100.0M35.8 97.2L35.8 101.2M18.1 104.3L20.6 101.8M24.0 100.5L27.0 100.5M11.8 107.1L14.3 109.6M48.5 107.1L52.0 107.1M24.4 110.0L27.9 110.0M26.9 110.1L29.4 112.6M33.0 113.1L33.0 117.1M15.0 116.7L15.0 119.7M55.2 122.2L57.7 119.7M51.4 122.3L54.9 122.3M48.6 125.8L48.6 128.8M30.2 131.5L33.2 128.5M14.6 131.9L17.6 131.9M24.1 131.8L26.6 134.3M32.8 134.6L36.8 134.6M26.6 138.4L26.6 141.4M11.6 140.6L11.6 142.0M24.2 141.2L26.7 142.0M33.2 141.0L36.7 141.0" stroke="#f0e040" stroke-width="1" opacity=".8"/>
<path d="M20.9 94.4L23.9 91.4M29.6 91.8L29.6 94.8M55.3 91.2L58.8 91.2M14.8 94.3L17.3 96.8M36.4 94.5L39.4 97.5M42.0 94.5L45.5 94.5M14.8 97.7L18.3 97.7M20.7 97.8L23.7 100.8M45.6 100.4L49.6 100.4M29.8 109.6L32.3 107.1M36.6 107.1L40.6 107.1M57.6 110.3L60.1 107.8M58.3 116.2L58.3 120.2M23.4 119.1L27.4 119.1M33.6 125.3L36.6 125.3M48.4 128.4L48.4 132.4M32.7 131.6L35.7 134.6M42.0 135.3L44.5 132.8M23.7 138.2L26.7 141.2" stroke="#b060d0" stroke-width="1" opacity=".8"/>
<path d="M23.4 91.4L25.9 93.9M11.6 95.1L11.6 98.1M29.8 101.2L29.8 104.7M33.3 103.8L36.3 106.8M48.6 106.5L51.1 104.0M14.6 107.0L14.6 111.0M23.7 107.4L27.7 107.4M52.2 110.0L56.2 110.0M29.8 116.5L32.3 114.0M20.6 119.8L24.6 119.8M35.9 125.6L38.4 123.1M24.3 125.9L24.3 129.4M51.6 126.1L51.6 130.1M39.8 128.4L42.3 130.9M45.5 128.5L45.5 131.5M20.7 132.0L20.7 136.0M51.8 135.3L51.8 138.3M49.2 141.1L51.7 142.0" stroke="#6080f0" stroke-width="1" opacity=".8"/>
<path d="M42.1 91.2L45.1 91.2M48.7 91.2L52.7 91.2M45.5 107.2L48.0 104.7M45.3 110.3L47.8 107.8M20.6 110.2L20.6 113.7M45.8 109.8L45.8 113.8M49.0 109.8L51.5 112.3M21.2 116.4L21.2 120.4M36.0 119.5L40.0 119.5M17.4 122.3L17.4 126.3M36.7 125.3L36.7 129.3M27.2 129.0L27.2 132.5M54.9 128.5L58.9 128.5M11.4 135.1L13.9 132.6M39.2 140.6L42.2 137.6" stroke="#f0f040" stroke-width="1" opacity=".8"/>
<path d="M20.9 97.5L23.9 94.5M26.7 94.2L29.2 96.7M42.1 100.3L44.6 97.8M48.5 101.0L51.5 98.0M57.7 100.2L60.7 97.2M36.4 101.3L40.4 101.3M51.7 101.3L55.7 101.3M36.4 104.1L39.4 104.1M51.5 109.9L54.0 107.4M35.9 110.0L35.9 114.0M27.0 113.4L30.0 116.4M11.9 126.0L11.9 129.5M14.5 125.7L14.5 129.7M26.9 126.0L26.9 130.0M42.8 125.6L46.3 125.6M55.0 128.4L58.0 125.4M57.5 128.6L60.0 126.1M51.8 129.2L54.8 129.2M36.7 131.7L40.7 131.7M49.0 134.8L51.5 132.3M11.0 138.0L14.0 135.0M18.1 138.3L20.6 135.8M36.1 134.5L36.1 137.5M54.8 134.5L57.8 134.5M17.8 140.6L21.8 140.6M27.2 141.2L29.7 142.0" stroke="#8060e0" stroke-width="1" opacity=".8"/>
<path d="M23.6 97.6L26.1 95.1M30.2 95.0L32.7 97.5M52.0 94.3L52.0 98.3M58.4 97.2L61.0 94.2M23.9 98.2L26.9 101.2M52.1 97.7L52.1 100.7M33.1 104.0L36.1 101.0M39.2 101.0L39.2 104.0M23.8 104.2L26.8 104.2M27.2 104.0L30.2 107.0M39.2 104.2L39.2 107.7M11.3 113.0L14.3 110.0M14.3 110.4L14.3 114.4M11.8 113.6L15.3 113.6M17.6 113.6L17.6 117.1M29.9 119.7L32.4 117.2M39.6 116.5L39.6 120.0M17.4 121.9L19.9 119.4M39.3 119.1L39.3 122.6M11.3 122.7L11.3 126.2M20.7 125.4L23.2 122.9M48.4 122.5L51.4 122.5M20.9 128.2L23.9 125.2M45.6 125.2L48.6 128.2M11.2 128.3L11.2 132.3M42.3 129.0L42.3 132.5M39.5 137.7L42.0 135.2M48.9 137.7L51.9 134.7M18.1 137.6L20.6 140.1M58.0 137.6L60.5 140.1M42.6 141.1L42.6 142.0M51.4 140.7L51.4 142.0M57.8 141.1L60.8 142.0" stroke="#e070b0" stroke-width="1" opacity=".8"/>
<path d="M39.6 94.3L42.6 94.3M54.4 101.1L57.9 101.1M30.3 106.8L32.8 104.3M42.3 103.9L42.3 106.9M57.6 103.8L57.6 106.8M42.5 107.0L45.0 109.5M58.2 112.7L60.7 110.2M51.8 112.8L51.8 116.3M35.9 116.0L39.9 116.0M42.8 119.6L45.3 122.1M17.8 129.2L21.8 129.2M20.5 129.1L20.5 132.1M36.4 129.0L36.4 133.0M12.0 137.6L16.0 137.6M46.0 137.8L49.0 140.8M48.8 138.5L51.8 138.5" stroke="#c0c0f0" stroke-width="1" opacity=".8"/>
<path d="M55.1 94.5L58.1 97.5M26.8 100.9L29.3 98.4M11.8 104.0L14.8 101.0M48.3 101.0L51.3 101.0M57.7 101.1L61.0 101.1M54.7 104.2L54.7 107.7M30.1 109.7L30.1 113.2M24.2 112.8L26.7 115.3M42.7 113.0L46.2 113.0M55.3 113.1L58.3 113.1M17.4 116.6L17.4 120.1M24.0 115.9L24.0 119.9M55.0 116.0L55.0 119.0M11.3 119.2L14.8 119.2M58.1 119.2L58.1 122.2M23.5 125.6L26.0 123.1M32.9 128.3L32.9 131.3M26.8 131.8L30.8 131.8M45.8 131.9L48.8 131.9M30.5 135.1L30.5 139.1M20.8 138.2L24.3 138.2M36.1 138.3L39.1 138.3M42.1 137.8L42.1 141.3M45.3 140.6L45.3 142.0" stroke="#d0d0d0" stroke-width="1" opacity=".8"/></g>
<text x="11" y="79.5" font-size="3.8" font-weight="bold" fill="#e8e8e8" textLength="34" lengthAdjust="spacingAndGlyphs">CFP-10, 3 colors</text>
<text x="11" y="82.7" font-size="3" font-weight="bold" fill="#ddd" textLength="22" lengthAdjust="spacingAndGlyphs">steps: 1000</text>
<text x="11" y="89.1" font-size="7.7" fill="#fff" stroke="#fff" stroke-width=".3" textLength="50.5" lengthAdjust="spacingAndGlyphs">Conflicts: 20.0%</text>
<g fill="none" stroke-linecap="butt" opacity=".92"><path d="M70.3 91.3L73.8 91.3M89.6 91.4L89.6 95.4M98.8 98.1L98.8 102.1M76.9 101.0L76.9 104.5M110.7 103.9L113.2 106.4M89.0 106.8L92.5 106.8M107.7 129.0L107.7 132.0" stroke="#9060d0" stroke-width="1.7" opacity=".42"/>
<path d="M95.4 91.6L95.4 95.6M113.6 94.5L117.0 94.5M77.0 132.3L80.5 132.3" stroke="#80a0f0" stroke-width="1.7" opacity=".42"/>
<path d="M101.6 91.8L105.6 91.8M92.0 98.0L95.0 95.0M67.4 116.5L70.4 116.5M74.1 134.6L74.1 138.1M80.2 140.7L83.2 142.0" stroke="#e06060" stroke-width="1.7" opacity=".42"/>
<path d="M107.5 91.1L111.5 91.1M86.4 98.0L88.9 95.5M110.5 94.6L113.0 97.1M67.7 106.5L70.2 104.0M70.5 104.2L70.5 107.2M80.1 116.8L80.1 119.8M108.0 122.9L111.0 122.9M89.4 129.0L93.4 129.0M95.1 131.6L98.1 131.6M107.4 137.6L110.9 137.6" stroke="#60d060" stroke-width="1.7" opacity=".42"/>
<path d="M86.0 97.5L88.5 100.0M77.2 107.4L77.2 110.9M101.9 116.7L101.9 120.7M104.2 131.4L106.7 128.9M67.9 135.3L70.9 132.3" stroke="#e0e050" stroke-width="1.7" opacity=".42"/>
<path d="M110.4 97.3L114.4 97.3M101.6 100.9L104.6 103.9M85.9 110.4L88.9 107.4M91.8 122.5L94.8 125.5M67.5 138.4L67.5 141.4M98.9 141.1L101.9 141.1" stroke="#f0a0b0" stroke-width="1.7" opacity=".42"/>
<path d="M95.6 103.7L99.1 103.7M83.4 122.4L83.4 126.4M101.3 122.7L101.3 125.7M79.5 132.0L83.0 132.0M107.4 131.6L110.9 131.6M79.5 134.7L83.5 134.7" stroke="#d0d0d0" stroke-width="1.7" opacity=".42"/>
<path d="M73.9 116.1L73.9 119.1M114.3 119.4L117.0 122.4M113.5 122.9L117.0 122.9M67.5 129.1L70.0 126.6M98.2 132.1L100.7 129.6" stroke="#c06080" stroke-width="1.7" opacity=".42"/>
<path d="M67.8 92.0L67.8 96.0M67.3 95.0L69.8 97.5M89.1 94.3L89.1 97.8M67.6 97.8L67.6 101.8M79.9 97.4L79.9 100.4M91.9 97.8L91.9 101.3M98.5 107.4L102.0 107.4M102.1 106.9L105.6 106.9M86.0 112.7L89.0 109.7M95.5 110.4L95.5 113.9M73.3 113.1L76.3 116.1M85.6 119.4L88.6 119.4M89.6 119.1L92.1 121.6M76.9 122.7L79.9 122.7M98.9 125.2L102.4 125.2M91.8 128.8L94.8 131.8M102.0 128.6L105.0 131.6M70.2 134.4L73.2 137.4M83.3 135.4L85.8 137.9M104.7 135.0L107.7 138.0M76.4 141.4L79.4 138.4M86.2 137.6L88.7 140.1M111.2 140.6L113.7 138.1M114.2 140.6L117.0 137.6M70.4 140.7L73.9 140.7M73.3 140.6L73.3 142.0" stroke="#9060d0" stroke-width="1" opacity=".8"/>
<path d="M74.1 91.8L74.1 95.3M111.2 94.5L113.7 92.0M95.4 97.7L97.9 100.2M86.2 100.7L89.2 103.7M86.4 103.8L88.9 106.3M70.4 107.5L70.4 110.5M107.5 106.8L111.5 106.8M98.9 112.7L101.4 110.2M102.1 110.4L105.1 110.4M107.5 110.1L110.5 110.1M70.9 113.3L74.4 113.3M86.5 113.6L89.0 116.1M92.6 116.2L96.1 116.2M104.5 116.3L108.5 116.3M111.2 119.7L115.2 119.7M67.9 134.9L67.9 138.4M83.1 141.0L85.6 138.5M94.9 138.1L97.4 140.6M98.9 138.1L101.9 141.1M95.0 141.4L98.5 141.4" stroke="#c06080" stroke-width="1" opacity=".8"/>
<path d="M77.0 94.2L80.0 91.2M83.1 95.1L86.1 95.1M89.7 97.6L93.2 97.6M101.9 98.1L104.9 98.1M104.5 97.6L107.5 100.6M98.8 101.3L101.8 101.3M107.7 104.2L110.7 101.2M77.1 103.6L81.1 103.6M105.2 103.8L109.2 103.8M95.3 106.6L97.8 109.1M113.9 109.6L116.9 106.6M83.5 113.2L86.5 116.2M91.8 113.6L94.8 113.6M111.1 118.9L113.6 116.4M92.2 119.2L95.2 119.2M101.2 119.8L103.7 122.3M107.9 119.3L107.9 122.3M80.0 122.2L83.5 122.2M86.2 126.0L89.2 123.0M111.4 125.2L113.9 127.7M70.8 129.0L73.8 132.0M95.3 131.8L97.8 129.3M86.2 140.9L86.2 142.0" stroke="#80a0f0" stroke-width="1" opacity=".8"/>
<path d="M92.8 91.9L95.3 94.4M71.0 94.4L73.5 96.9M101.1 97.7L103.6 95.2M107.5 94.8L107.5 98.8M107.5 97.9L111.0 97.9M82.6 100.6L82.6 104.1M91.8 107.2L94.8 104.2M98.1 107.3L101.1 104.3M74.1 107.4L77.1 110.4M82.9 106.9L85.9 109.9M92.5 106.8L96.0 106.8M76.6 110.2L80.1 110.2M77.1 115.8L79.6 113.3M95.8 113.0L98.3 115.5M111.1 113.3L115.1 113.3M77.0 122.0L80.0 119.0M67.4 122.1L71.4 122.1M73.4 125.6L75.9 123.1M74.1 128.8L77.6 128.8M110.9 129.0L110.9 132.5M70.8 134.9L73.3 132.4M92.1 134.9L92.1 138.4M95.7 135.0L98.7 135.0M70.1 137.6L72.6 140.1M67.8 140.7L67.8 142.0M83.0 141.3L86.0 142.0" stroke="#f0a0b0" stroke-width="1" opacity=".8"/>
<path d="M98.4 91.3L98.4 95.3M114.1 91.3L114.1 94.8M98.8 94.8L98.8 98.3M70.8 97.3L73.8 100.3M79.7 103.9L82.2 101.4M92.2 101.2L95.7 101.2M79.7 103.8L83.7 103.8M107.6 104.4L110.1 106.9M79.6 106.6L82.1 109.1M104.3 107.3L108.3 107.3M70.2 110.5L73.2 110.5M73.4 110.1L73.4 113.6M104.4 113.2L106.9 110.7M89.2 113.2L92.2 116.2M98.8 112.8L101.3 115.3M114.5 116.4L117.0 113.4M76.7 119.3L79.2 116.8M83.0 116.7L83.0 120.2M95.5 122.7L99.5 122.7M98.3 125.8L100.8 123.3M95.1 125.4L98.1 125.4M114.3 125.5L117.0 128.5M86.3 128.7L89.3 128.7M86.1 131.4L86.1 134.4M114.1 131.8L117.0 131.8M111.1 134.6L114.1 137.6M104.7 137.7L107.2 140.2M89.5 141.3L93.5 141.3M110.5 141.2L113.0 142.0" stroke="#e06060" stroke-width="1" opacity=".8"/>
<path d="M74.0 98.0L77.0 95.0M95.9 94.1L98.9 94.1M104.3 103.6L107.3 100.6M89.1 103.4L92.1 103.4M79.4 110.4L82.4 113.4M92.4 110.0L92.4 113.5M113.8 110.3L116.8 110.3M67.2 112.9L70.7 112.9M79.7 113.0L79.7 116.5M101.7 113.0L105.2 113.0M107.5 113.0L107.5 117.0M70.7 118.9L73.7 115.9M95.8 116.8L98.3 119.3M98.2 116.2L98.2 119.7M83.0 119.0L87.0 119.0M104.5 122.0L107.0 119.5M104.4 122.2L107.4 122.2M92.0 125.9L95.0 128.9M101.9 125.3L101.9 128.8M104.8 128.3L107.8 125.3M77.3 128.3L77.3 131.8M98.6 134.9L98.6 137.9M73.4 141.3L75.9 138.8M79.8 137.7L82.8 137.7M89.1 138.1L92.1 141.1M101.3 138.1L105.3 138.1" stroke="#e0e050" stroke-width="1" opacity=".8"/>
<path d="M80.3 94.6L83.8 94.6M73.9 101.3L73.9 104.8M113.6 100.7L116.6 100.7M101.8 106.8L104.8 103.8M114.0 106.7L117.0 103.7M67.6 107.5L71.1 107.5M111.0 107.0L114.5 107.0M107.9 115.8L111.4 115.8M70.4 119.7L70.4 123.7M79.7 119.1L79.7 122.6M98.5 119.2L101.0 121.7M89.4 125.4L92.4 122.4M71.1 125.7L74.6 125.7M73.8 125.7L73.8 129.7M88.7 125.2L92.2 125.2M80.3 128.4L80.3 131.4M73.4 134.5L75.9 132.0M82.9 131.6L82.9 134.6M111.1 131.4L111.1 135.4M77.0 134.5L80.0 134.5M101.8 134.4L104.3 136.9M113.9 134.9L116.4 137.4M101.8 140.8L101.8 142.0" stroke="#d0d0d0" stroke-width="1" opacity=".8"/>
<path d="M76.8 100.7L79.3 98.2M114.0 97.3L114.0 100.8M70.6 100.7L74.6 100.7M89.0 101.1L92.0 104.1M95.1 100.5L95.1 104.5M67.7 113.2L70.2 110.7M89.6 110.2L89.6 113.2M110.5 110.2L114.5 110.2M89.0 116.3L92.0 119.3M114.1 116.2L117.0 119.2M95.8 122.7L98.3 120.2M82.6 125.2L82.6 128.2M85.6 125.3L89.1 125.3M107.5 128.8L110.5 125.8M114.3 128.2L117.0 131.2M92.6 132.1L95.1 134.6M104.6 132.1L108.6 132.1M85.8 135.2L85.8 139.2M107.3 134.5L110.8 134.5M92.7 140.5L95.2 138.0M92.2 143.7L95.2 140.7M107.9 141.2L107.9 142.0" stroke="#60d060" stroke-width="1" opacity=".8"/></g>
<text x="67" y="79.5" font-size="3.8" font-weight="bold" fill="#e8e8e8" textLength="34" lengthAdjust="spacingAndGlyphs">CFP-10, 4 colors</text>
<text x="67" y="82.7" font-size="3" font-weight="bold" fill="#ddd" textLength="22" lengthAdjust="spacingAndGlyphs">steps: 1000</text>
<text x="67" y="89.1" font-size="7.7" fill="#fff" stroke="#fff" stroke-width=".3" textLength="50.5" lengthAdjust="spacingAndGlyphs">Conflicts: 16.2%</text>
<g fill="none" stroke-linecap="butt" opacity=".92"><path d="M163.1 91.4L165.6 93.9M144.3 100.6L147.8 100.6M163.2 109.7L166.2 106.7M134.5 122.6L137.5 125.6M122.4 134.7L122.4 138.7M147.1 140.9L150.1 142.0" stroke="#e07070" stroke-width="1.7" opacity=".42"/>
<path d="M169.0 94.2L171.5 91.7M138.3 97.5L138.3 101.5M141.3 113.2L144.3 116.2M153.3 113.5L153.3 116.5M138.3 116.4L138.3 119.9M147.2 119.1L147.2 122.1M140.8 125.2L140.8 128.7M163.2 138.3L166.2 141.3" stroke="#a0f0a0" stroke-width="1.7" opacity=".42"/>
<path d="M153.3 95.1L156.3 95.1M163.1 94.2L166.6 94.2M153.1 97.3L153.1 101.3M166.3 100.3L169.3 97.3M125.3 103.5L128.8 103.5M134.6 103.5L138.6 103.5M141.4 107.1L143.9 104.6M140.8 106.7L143.3 109.2M125.4 119.7L127.9 122.2M131.7 126.1L131.7 129.6M144.5 140.7L148.5 140.7" stroke="#70c0c0" stroke-width="1.7" opacity=".42"/>
<path d="M141.5 98.1L145.5 98.1M163.1 106.8L166.1 103.8M169.0 107.0L171.5 104.5M138.1 110.2L138.1 114.2M144.6 118.9L148.1 118.9M144.1 126.1L144.1 129.6M137.5 128.5L140.0 131.0M159.7 128.4L163.2 128.4M163.2 134.8L163.2 138.3M169.0 141.4L171.5 138.9M128.5 141.1L131.5 141.1" stroke="#c0c060" stroke-width="1.7" opacity=".42"/>
<path d="M144.5 97.7L144.5 101.7M150.1 107.3L153.1 107.3M138.1 113.0L138.1 116.5M129.1 119.4L132.1 122.4M134.5 119.9L134.5 122.9M160.0 125.6L163.0 125.6M144.6 135.2L148.1 135.2" stroke="#d0d0d0" stroke-width="1.7" opacity=".42"/>
<path d="M163.0 98.0L163.0 101.0M132.3 106.6L134.8 109.1M168.9 110.1L171.4 107.6M128.3 116.3L128.3 119.8M132.1 129.1L132.1 132.1M166.0 131.7L166.0 135.7M153.4 137.7L155.9 140.2" stroke="#e09040" stroke-width="1.7" opacity=".42"/>
<path d="M159.4 107.3L161.9 109.8M140.7 115.9L140.7 118.9M125.8 138.3L128.8 141.3M165.9 137.8L169.4 137.8M162.8 143.7L165.3 141.2" stroke="#9070d0" stroke-width="1.7" opacity=".42"/>
<path d="M162.9 109.8L162.9 113.3M169.2 122.3L171.7 124.8M137.5 138.3L140.0 140.8" stroke="#60c070" stroke-width="1.7" opacity=".42"/>
<path d="M122.6 91.5L125.6 91.5M125.8 100.3L128.3 97.8M156.6 98.1L159.1 100.6M159.8 97.5L159.8 101.0M150.8 104.2L150.8 108.2M147.4 106.9L150.9 106.9M166.4 107.3L169.4 107.3M144.3 112.8L146.8 110.3M147.8 113.3L150.3 110.8M159.7 122.1L162.7 125.1M156.4 128.2L156.4 132.2M162.6 128.9L162.6 132.4M162.6 131.7L162.6 134.7M153.4 134.7L153.4 137.7M129.0 137.6L129.0 141.6" stroke="#a0f0a0" stroke-width="1" opacity=".8"/>
<path d="M129.0 94.5L132.0 91.5M122.1 94.3L124.6 96.8M135.4 97.5L135.4 100.5M122.6 100.7L126.6 100.7M147.3 103.4L150.3 100.4M156.5 103.6L159.0 101.1M131.7 110.3L134.7 110.3M123.0 115.8L126.0 112.8M125.7 112.8L128.7 115.8M159.4 113.3L163.4 113.3M132.1 115.8L135.1 118.8M153.3 116.1L153.3 120.1M168.7 115.8L168.7 118.8M138.4 122.4L141.4 125.4M143.9 122.7L146.9 125.7M169.0 128.9L171.5 126.4M165.8 132.1L168.3 129.6M126.1 132.2L126.1 136.2M135.1 141.6L135.1 142.0M159.7 140.9L162.7 142.0" stroke="#e09040" stroke-width="1" opacity=".8"/>
<path d="M132.0 94.3L135.0 91.3M134.9 91.1L134.9 94.6M153.5 100.5L157.0 100.5M147.2 106.5L150.2 103.5M129.1 107.0L132.1 110.0M144.1 116.0L144.1 119.0M165.8 122.7L165.8 125.7M169.2 128.3L172.0 131.3M159.2 131.8L162.2 131.8M132.1 137.9L135.1 134.9M159.6 134.9L162.1 137.4" stroke="#9070d0" stroke-width="1" opacity=".8"/>
<path d="M140.6 91.7L140.6 94.7M160.1 94.6L163.1 94.6M131.4 97.5L134.4 97.5M137.5 110.4L140.5 107.4M153.6 107.5L153.6 111.5M125.8 113.5L128.3 111.0M129.0 112.9L131.5 110.4M143.8 112.9L143.8 115.9M162.9 112.8L166.4 112.8M153.2 119.6L156.2 122.6M147.2 122.9L150.7 122.9M134.8 125.9L134.8 128.9M128.9 128.3L128.9 131.8M147.0 128.5L149.5 131.0M150.3 132.1L153.3 129.1M131.7 132.0L134.2 134.5M140.6 132.0L140.6 135.5M149.9 135.4L149.9 139.4M122.1 138.0L125.1 138.0M141.3 138.2L141.3 141.2M153.3 141.2L156.8 141.2" stroke="#70c0c0" stroke-width="1" opacity=".8"/>
<path d="M144.4 94.3L146.9 91.8M160.2 91.5L164.2 91.5M146.9 95.1L146.9 98.6M156.5 95.0L160.5 95.0M125.3 100.7L129.3 100.7M156.4 110.4L159.4 107.4M147.4 113.1L147.4 116.6M166.2 112.9L169.2 115.9M169.1 113.3L172.0 116.3M141.1 119.6L144.1 119.6M153.1 125.2L156.1 122.2M122.6 125.4L122.6 128.9M147.3 129.1L149.8 126.6M134.7 129.1L134.7 132.6M122.2 134.5L125.2 131.5M138.3 131.9L140.8 134.4M156.2 137.6L159.2 137.6" stroke="#e07070" stroke-width="1" opacity=".8"/>
<path d="M147.7 91.5L150.7 94.5M150.2 91.9L153.2 94.9M140.9 94.9L140.9 97.9M144.4 94.1L147.9 94.1M166.1 94.4L166.1 97.9M129.1 97.2L129.1 100.2M150.6 100.5L150.6 104.5M166.2 100.8L168.7 103.3M122.8 104.1L126.8 104.1M132.2 103.8L135.2 103.8M137.6 104.2L140.6 107.2M150.8 113.3L153.3 110.8M150.7 115.9L153.2 113.4M160.0 116.0L160.0 119.5M166.2 116.2L168.7 118.7M131.7 122.6L134.2 120.1M156.4 119.1L156.4 122.6M122.6 122.3L125.6 122.3M153.8 129.0L153.8 132.5M153.3 132.1L153.3 135.1M125.8 135.4L129.3 135.4M128.5 138.1L131.5 135.1M157.0 134.4L160.0 137.4M146.9 138.0L149.9 138.0M159.9 138.3L162.9 138.3M150.3 141.5L154.3 141.5M165.5 141.5L168.5 142.0M168.8 141.3L168.8 142.0" stroke="#c0c060" stroke-width="1" opacity=".8"/>
<path d="M165.4 91.3L165.4 95.3M169.0 94.6L169.0 97.6M122.1 100.8L124.6 98.3M131.5 101.2L131.5 105.2M140.9 103.4L143.4 100.9M128.7 104.3L131.2 106.8M156.3 104.2L158.8 106.7M122.3 107.4L122.3 110.9M125.5 116.8L128.5 119.8M137.8 119.3L140.8 119.3M125.7 122.4L128.7 125.4M128.3 125.1L131.3 122.1M141.2 122.7L143.7 125.2M150.1 122.3L150.1 126.3M163.0 122.3L166.5 122.3M153.9 126.0L156.9 129.0M162.7 125.8L162.7 129.8M125.8 132.0L128.3 129.5M143.8 131.4L146.3 128.9M129.2 131.6L129.2 134.6M150.3 132.0L152.8 134.5M134.4 138.5L137.4 138.5M122.2 141.2L125.2 142.0M132.3 141.3L132.3 142.0M141.1 141.4L141.1 142.0" stroke="#d0d0d0" stroke-width="1" opacity=".8"/>
<path d="M125.6 95.0L125.6 98.0M150.1 94.7L150.1 97.7M146.9 100.9L149.9 97.9M149.9 98.1L152.9 98.1M138.0 100.9L138.0 104.9M144.2 106.7L146.7 104.2M153.0 103.9L155.5 106.4M159.7 103.8L159.7 106.8M134.5 109.7L137.0 107.2M147.1 116.4L151.1 116.4M122.6 119.8L122.6 123.8M163.3 122.2L166.3 119.2M168.9 118.9L171.9 118.9M131.5 122.1L134.0 124.6M125.8 125.2L125.8 128.7M137.7 125.2L137.7 128.2M140.9 129.2L140.9 132.7M156.7 131.4L156.7 134.9M134.4 135.0L134.4 138.5M146.9 137.4L149.4 134.9" stroke="#60c070" stroke-width="1" opacity=".8"/></g>
<text x="122" y="79.5" font-size="3.8" font-weight="bold" fill="#e8e8e8" textLength="34" lengthAdjust="spacingAndGlyphs">CFP-10, 5 colors</text>
<text x="122" y="82.7" font-size="3" font-weight="bold" fill="#ddd" textLength="22" lengthAdjust="spacingAndGlyphs">steps: 1000</text>
<text x="122" y="89.1" font-size="7.7" fill="#fff" stroke="#fff" stroke-width=".3" textLength="50.5" lengthAdjust="spacingAndGlyphs">Conflicts: 12.6%</text>
<g fill="none" stroke-linecap="butt" opacity=".92"><path d="M196.9 94.4L199.9 91.4M200.1 100.7L203.1 103.7M203.4 110.3L206.9 110.3M225.5 112.8L228.0 112.8M193.6 122.6L196.1 125.1M206.4 122.3L210.4 122.3M193.9 137.9L196.9 134.9M197.2 137.6L201.2 137.6" stroke="#c0a060" stroke-width="1.7" opacity=".42"/>
<path d="M200.6 91.8L203.1 94.3M225.2 100.8L227.7 103.3M187.9 116.5L190.9 113.5M216.0 112.7L218.5 115.2M185.0 116.1L185.0 119.6M225.2 125.7L228.0 125.7M212.4 137.9L215.4 140.9M215.8 138.0L219.8 138.0" stroke="#d0d0b0" stroke-width="1.7" opacity=".42"/>
<path d="M222.1 91.9L222.1 94.9M182.0 103.6L185.5 103.6M187.5 103.8L190.5 106.8M222.2 104.2L222.2 107.7M209.8 109.5L212.3 107.0M221.7 109.7L224.7 106.7M203.0 113.1L203.0 117.1M209.4 128.5L211.9 126.0M193.5 128.3L196.5 131.3M185.1 141.0L187.6 142.0" stroke="#e0c050" stroke-width="1.7" opacity=".42"/>
<path d="M178.9 95.0L178.9 98.5M191.0 97.3L191.0 100.3M190.5 106.6L193.5 103.6M200.6 110.0L203.1 112.5M209.2 109.6L212.2 112.6M194.4 116.2L197.4 113.2M197.5 113.4L200.5 116.4M181.5 125.3L185.0 125.3M190.5 125.8L190.5 129.3M209.1 128.6L212.6 128.6M224.7 131.8L224.7 134.8M206.7 140.9L206.7 142.0" stroke="#c07070" stroke-width="1.7" opacity=".42"/>
<path d="M203.4 95.1L203.4 98.1M178.9 100.6L181.4 98.1M216.2 104.1L218.7 106.6M209.8 119.3L209.8 122.8M218.8 119.0L222.3 119.0M197.3 131.6L199.8 134.1M178.3 138.2L182.3 138.2" stroke="#a070c0" stroke-width="1.7" opacity=".42"/>
<path d="M196.6 110.0L199.6 107.0M218.9 113.3L222.4 113.3M196.8 128.2L199.3 125.7M184.3 134.4L186.8 131.9M221.7 131.8L221.7 135.3" stroke="#8080c0" stroke-width="1.7" opacity=".42"/>
<path d="M194.2 128.7L196.7 126.2M187.3 128.2L187.3 132.2" stroke="#e0e090" stroke-width="1.7" opacity=".42"/>
<path d="M178.5 91.3L181.0 93.8M188.0 91.9L191.0 91.9M194.2 97.9L194.2 101.9M218.5 97.6L221.5 100.6M203.2 101.1L206.2 101.1M206.0 109.8L210.0 109.8M194.4 118.8L196.9 116.3M194.2 119.9L197.2 119.9M206.3 125.7L208.8 128.2M178.8 128.7L178.8 131.7M190.7 129.1L194.2 129.1M188.3 132.2L192.3 132.2M178.5 141.1L181.5 142.0M194.0 141.3L198.0 141.3" stroke="#8080c0" stroke-width="1" opacity=".8"/>
<path d="M190.6 91.2L190.6 95.2M209.7 94.8L212.7 91.8M178.2 109.8L181.2 106.8M181.3 109.9L183.8 112.4M187.5 110.4L190.0 112.9M178.8 113.6L181.8 116.6M191.2 113.5L194.2 116.5M200.1 116.8L203.1 119.8M178.3 118.9L180.8 121.4M215.3 125.5L218.3 128.5M203.7 128.5L203.7 132.0M224.8 129.1L227.8 132.1M178.5 132.0L182.5 132.0M212.4 140.9L215.4 142.0M215.2 140.6L215.2 142.0" stroke="#a070c0" stroke-width="1" opacity=".8"/>
<path d="M194.5 91.1L194.5 94.1M200.1 97.3L202.6 99.8M209.1 97.9L212.6 97.9M222.1 100.5L225.1 103.5M196.9 104.2L199.9 104.2M206.1 106.9L209.1 103.9M187.5 107.1L190.5 110.1M203.4 106.6L206.9 106.6M215.3 110.1L217.8 112.6M222.1 112.8L225.1 112.8M215.4 116.3L215.4 119.3M197.4 122.5L197.4 126.0M225.2 122.5L225.2 125.5M184.7 125.3L188.7 125.3M212.6 129.0L216.6 129.0M215.9 128.3L215.9 132.3M222.2 128.2L225.2 128.2M191.4 131.7L194.4 134.7M206.6 135.3L209.1 132.8M187.4 137.5L190.4 134.5M187.4 138.2L187.4 141.7M194.1 140.5L197.1 137.5M218.8 138.1L221.3 140.6M225.4 138.0L228.0 138.0M225.3 140.8L228.0 140.8" stroke="#c0a060" stroke-width="1" opacity=".8"/>
<path d="M203.0 91.2L206.5 91.2M225.4 91.3L228.0 91.3M194.3 97.5L196.8 95.0M187.5 97.3L190.5 100.3M203.4 101.0L206.4 98.0M178.2 100.8L178.2 103.8M209.2 104.2L212.7 104.2M215.6 106.7L218.6 106.7M178.1 113.0L180.6 110.5M193.5 113.2L196.0 110.7M196.7 109.7L199.2 112.2M200.4 116.1L202.9 113.6M209.1 116.5L212.6 116.5M219.0 116.6L219.0 120.6M209.8 125.5L212.8 122.5M216.1 122.0L219.1 125.0M196.7 128.8L199.7 128.8M218.7 128.5L221.7 131.5M199.9 134.6L202.4 137.1M203.4 138.3L203.4 142.0" stroke="#e0c050" stroke-width="1" opacity=".8"/>
<path d="M218.7 91.6L221.7 91.6M206.4 94.1L209.4 97.1M212.5 97.4L215.5 94.4M196.8 97.4L196.8 100.9M221.6 100.5L224.1 98.0M224.9 103.4L224.9 107.4M203.2 116.2L203.2 119.2M222.3 119.9L226.3 119.9M181.9 122.7L185.4 122.7M181.8 128.9L184.8 131.9M200.0 131.8L200.0 134.8M185.1 135.2L188.1 135.2M203.5 143.8L206.0 141.3" stroke="#d0d0b0" stroke-width="1" opacity=".8"/>
<path d="M224.6 97.8L227.6 94.8M196.6 100.7L196.6 104.7M218.9 103.7L221.4 101.2M200.3 103.7L203.3 103.7M224.6 107.5L228.0 107.5M191.1 109.8L194.1 109.8M221.6 109.6L225.6 109.6M185.0 112.8L187.5 115.3M209.3 116.0L211.8 113.5M212.5 116.8L215.0 119.3M184.4 119.4L187.9 119.4M212.3 119.5L212.3 122.5M184.6 125.7L187.6 122.7M222.0 123.0L222.0 126.0M200.6 131.5L203.1 129.0M212.6 131.9L212.6 134.9M197.2 135.1L199.7 137.6M206.1 135.1L208.6 137.6M209.2 134.6L211.7 137.1M212.8 135.3L215.8 135.3M199.8 141.4L202.3 138.9M190.6 143.7L193.6 140.7M222.4 140.7L222.4 142.0" stroke="#c07070" stroke-width="1" opacity=".8"/>
<path d="M184.5 97.9L184.5 101.4M181.8 100.9L184.3 103.4M184.3 100.8L187.3 100.8M178.6 103.9L182.1 103.9M213.0 106.7L213.0 110.2M219.1 106.6L219.1 110.6M225.0 109.9L225.0 113.4M181.6 116.4L184.6 113.4M206.3 113.2L206.3 116.2M191.2 119.5L193.7 122.0M203.4 122.4L203.4 125.9M178.3 128.1L180.8 125.6M200.6 125.3L204.1 125.3M203.7 125.9L203.7 129.9M203.8 134.7L206.8 137.7M190.4 138.0L192.9 140.5M187.5 140.7L191.5 140.7" stroke="#e0e090" stroke-width="1" opacity=".8"/></g>
<text x="178" y="79.5" font-size="3.8" font-weight="bold" fill="#e8e8e8" textLength="34" lengthAdjust="spacingAndGlyphs">CFP-10, 6 colors</text>
<text x="178" y="82.7" font-size="3" font-weight="bold" fill="#ddd" textLength="22" lengthAdjust="spacingAndGlyphs">steps: 1000</text>
<text x="178" y="89.1" font-size="7.7" fill="#fff" stroke="#fff" stroke-width=".3" textLength="50.5" lengthAdjust="spacingAndGlyphs">Conflicts: 09.9%</text>
</svg>
<div class="bar"></div>
<svg width="239" height="163" viewBox="0 0 239 163" font-family="Liberation Sans, sans-serif"><text x="119.5" y="161.6" font-size="4" text-anchor="middle" fill="#222">gcp: 1.0.g</text></svg>
</div>

<div class="chart">
<svg width="530" height="363" viewBox="0 0 530 363" font-family="Liberation Sans, sans-serif" fill="#000">
<text x="10.2" y="27.4" font-size="22" textLength="511.0" lengthAdjust="spacingAndGlyphs">Performance of CFP vs. Tightness of Constraints</text>
<text x="92.2" y="66.2" font-size="19.5" textLength="347.6" lengthAdjust="spacingAndGlyphs">chromatic number=4, after 1000 steps</text>
<text transform="translate(25.7,315.0) rotate(-90)" font-size="16" textLength="238.5" lengthAdjust="spacingAndGlyphs">normalized degree of conflict (%)</text>
<text x="229.7" y="351.4" font-size="16" textLength="52.0" lengthAdjust="spacingAndGlyphs">#colors</text>
<rect x="68.5" y="86" width="377.0" height="220" fill="#c9c9c9"/>
<path d="M68.5 86V306.0" stroke="#111" stroke-width="1.2" fill="none"/>
<path d="M68.5 305.5H445.5" stroke="#111" stroke-width="1" fill="none"/>
<path d="M62.0 305.5H68.5M62.0 274.1H68.5M62.0 242.8H68.5M62.0 211.4H68.5M62.0 180.1H68.5M62.0 148.7H68.5M62.0 117.3H68.5M62.0 86.0H68.5M68.5 305.5v6M95.4 305.5v4M122.4 305.5v6M149.3 305.5v4M176.2 305.5v6M203.1 305.5v4M230.1 305.5v6M257.0 305.5v4M283.9 305.5v6M310.9 305.5v4M337.8 305.5v6M364.7 305.5v4M391.6 305.5v6M418.6 305.5v4M445.5 305.5v6" stroke="#111" stroke-width="1.1" fill="none"/>
<text x="57.30000000000001" y="309.6" text-anchor="end" font-size="12">0</text>
<text x="57.30000000000001" y="278.2" text-anchor="end" font-size="12">25</text>
<text x="57.30000000000001" y="246.9" text-anchor="end" font-size="12">50</text>
<text x="57.30000000000001" y="215.5" text-anchor="end" font-size="12">75</text>
<text x="57.30000000000001" y="184.2" text-anchor="end" font-size="12">100</text>
<text x="57.30000000000001" y="152.8" text-anchor="end" font-size="12">125</text>
<text x="57.30000000000001" y="121.4" text-anchor="end" font-size="12">150</text>
<text x="57.30000000000001" y="90.1" text-anchor="end" font-size="12">175</text>
<text x="69.0" y="326" text-anchor="middle" font-size="12">2</text>
<text x="122.9" y="326" text-anchor="middle" font-size="12">6</text>
<text x="176.7" y="326" text-anchor="middle" font-size="12">10</text>
<text x="230.6" y="326" text-anchor="middle" font-size="12">14</text>
<text x="284.4" y="326" text-anchor="middle" font-size="12">18</text>
<text x="338.3" y="326" text-anchor="middle" font-size="12">22</text>
<text x="392.1" y="326" text-anchor="middle" font-size="12">26</text>
<text x="446.0" y="326" text-anchor="middle" font-size="12">30</text>
<polyline points="68.5,99.1 82.0,113.2 95.4,299.2 108.9,304.9 122.4,305.5" fill="none" stroke="#8a4a60" stroke-width="1"/>
<polyline points="68.5,136.6 82.0,250.9 95.4,300.5 108.9,304.9 122.4,305.5" fill="none" stroke="#33ee33" stroke-width="1"/>
<polyline points="68.5,239.0 82.0,255.9 95.4,300.5 108.9,304.9 122.4,305.5" fill="none" stroke="#666633" stroke-width="1"/>
<polyline points="68.5,239.0 82.0,255.9 95.4,299.9 108.9,304.9 122.4,305.5" fill="none" stroke="#443366" stroke-width="1"/>
<polyline points="68.5,239.0 82.0,255.9 95.4,299.2 108.9,304.9 122.4,305.5" fill="none" stroke="#884455" stroke-width="1"/>
<polyline points="68.5,238.4 82.0,256.6 95.4,294.8 108.9,304.9 122.4,305.5 135.8,305.5 149.3,305.5 176.2,305.5 310.9,305.5 445.5,305.5" fill="none" stroke="#3366bb" stroke-width="1"/>
<path d="M65.9 99.1L68.5 96.1L71.1 99.1L68.5 102.1Z" fill="#6b3a48" stroke="#5a3040" stroke-width=".4"/>
<path d="M79.4 113.2L82.0 110.2L84.6 113.2L82.0 116.2Z" fill="#6b3a48" stroke="#5a3040" stroke-width=".4"/>
<path d="M92.80000000000001 299.2L95.4 296.2L98.0 299.2L95.4 302.2Z" fill="#6b3a48" stroke="#5a3040" stroke-width=".4"/>
<path d="M106.30000000000001 304.9L108.9 301.9L111.5 304.9L108.9 307.9Z" fill="#6b3a48" stroke="#5a3040" stroke-width=".4"/>
<path d="M119.80000000000001 305.5L122.4 302.5L125.0 305.5L122.4 308.5Z" fill="#6b3a48" stroke="#5a3040" stroke-width=".4"/>
<path d="M133.20000000000002 305.5L135.8 302.5L138.4 305.5L135.8 308.5Z" fill="#6b3a48" stroke="#5a3040" stroke-width=".4"/>
<path d="M146.70000000000002 305.5L149.3 302.5L151.9 305.5L149.3 308.5Z" fill="#6b3a48" stroke="#5a3040" stroke-width=".4"/>
<path d="M173.6 305.5L176.2 302.5L178.79999999999998 305.5L176.2 308.5Z" fill="#6b3a48" stroke="#5a3040" stroke-width=".4"/>
<path d="M308.29999999999995 305.5L310.9 302.5L313.5 305.5L310.9 308.5Z" fill="#6b3a48" stroke="#5a3040" stroke-width=".4"/>
<path d="M442.9 305.5L445.5 302.5L448.1 305.5L445.5 308.5Z" fill="#6b3a48" stroke="#5a3040" stroke-width=".4"/>
<path d="M65.9 134.4L71.1 134.4L68.5 139.6Z" fill="#c8f0c8" stroke="#229922" stroke-width="1.1"/>
<path d="M79.4 248.70000000000002L84.6 248.70000000000002L82.0 253.9Z" fill="#c8f0c8" stroke="#229922" stroke-width="1.1"/>
<path d="M92.80000000000001 298.3L98.0 298.3L95.4 303.5Z" fill="#c8f0c8" stroke="#229922" stroke-width="1.1"/>
<path d="M106.30000000000001 302.7L111.5 302.7L108.9 307.9Z" fill="#c8f0c8" stroke="#229922" stroke-width="1.1"/>
<path d="M119.80000000000001 303.3L125.0 303.3L122.4 308.5Z" fill="#c8f0c8" stroke="#229922" stroke-width="1.1"/>
<path d="M133.20000000000002 303.3L138.4 303.3L135.8 308.5Z" fill="#c8f0c8" stroke="#229922" stroke-width="1.1"/>
<path d="M146.70000000000002 303.3L151.9 303.3L149.3 308.5Z" fill="#c8f0c8" stroke="#229922" stroke-width="1.1"/>
<path d="M173.6 303.3L178.79999999999998 303.3L176.2 308.5Z" fill="#c8f0c8" stroke="#229922" stroke-width="1.1"/>
<path d="M308.29999999999995 303.3L313.5 303.3L310.9 308.5Z" fill="#c8f0c8" stroke="#229922" stroke-width="1.1"/>
<path d="M442.9 303.3L448.1 303.3L445.5 308.5Z" fill="#c8f0c8" stroke="#229922" stroke-width="1.1"/>
<path d="M65.8 241.3L71.2 241.3L68.5 236.0Z" fill="#444422" stroke="#333311" stroke-width=".5"/>
<path d="M79.3 258.2L84.7 258.2L82.0 252.9Z" fill="#444422" stroke="#333311" stroke-width=".5"/>
<path d="M92.7 302.8L98.10000000000001 302.8L95.4 297.5Z" fill="#444422" stroke="#333311" stroke-width=".5"/>
<path d="M106.2 307.2L111.60000000000001 307.2L108.9 301.9Z" fill="#444422" stroke="#333311" stroke-width=".5"/>
<path d="M119.7 307.8L125.10000000000001 307.8L122.4 302.5Z" fill="#444422" stroke="#333311" stroke-width=".5"/>
<path d="M133.10000000000002 307.8L138.5 307.8L135.8 302.5Z" fill="#444422" stroke="#333311" stroke-width=".5"/>
<path d="M146.60000000000002 307.8L152.0 307.8L149.3 302.5Z" fill="#444422" stroke="#333311" stroke-width=".5"/>
<path d="M173.5 307.8L178.89999999999998 307.8L176.2 302.5Z" fill="#444422" stroke="#333311" stroke-width=".5"/>
<path d="M308.2 307.8L313.59999999999997 307.8L310.9 302.5Z" fill="#444422" stroke="#333311" stroke-width=".5"/>
<path d="M442.8 307.8L448.2 307.8L445.5 302.5Z" fill="#444422" stroke="#333311" stroke-width=".5"/>
<path d="M66.2 236.3L66.2 241.7L71.5 239.0Z" fill="#332244" stroke="#221133" stroke-width=".5"/>
<path d="M79.7 253.20000000000002L79.7 258.6L85.0 255.9Z" fill="#332244" stroke="#221133" stroke-width=".5"/>
<path d="M93.10000000000001 297.2L93.10000000000001 302.59999999999997L98.4 299.9Z" fill="#332244" stroke="#221133" stroke-width=".5"/>
<path d="M106.60000000000001 302.2L106.60000000000001 307.59999999999997L111.9 304.9Z" fill="#332244" stroke="#221133" stroke-width=".5"/>
<path d="M120.10000000000001 302.8L120.10000000000001 308.2L125.4 305.5Z" fill="#332244" stroke="#221133" stroke-width=".5"/>
<path d="M133.5 302.8L133.5 308.2L138.8 305.5Z" fill="#332244" stroke="#221133" stroke-width=".5"/>
<path d="M147.0 302.8L147.0 308.2L152.3 305.5Z" fill="#332244" stroke="#221133" stroke-width=".5"/>
<path d="M173.89999999999998 302.8L173.89999999999998 308.2L179.2 305.5Z" fill="#332244" stroke="#221133" stroke-width=".5"/>
<path d="M308.59999999999997 302.8L308.59999999999997 308.2L313.9 305.5Z" fill="#332244" stroke="#221133" stroke-width=".5"/>
<path d="M443.2 302.8L443.2 308.2L448.5 305.5Z" fill="#332244" stroke="#221133" stroke-width=".5"/>
<path d="M70.7 236.4L70.7 241.6L65.5 239.0Z" fill="#d0b8c0" stroke="#773344" stroke-width=".9"/>
<path d="M84.2 253.3L84.2 258.5L79.0 255.9Z" fill="#d0b8c0" stroke="#773344" stroke-width=".9"/>
<path d="M97.60000000000001 296.59999999999997L97.60000000000001 301.8L92.4 299.2Z" fill="#d0b8c0" stroke="#773344" stroke-width=".9"/>
<path d="M111.10000000000001 302.29999999999995L111.10000000000001 307.5L105.9 304.9Z" fill="#d0b8c0" stroke="#773344" stroke-width=".9"/>
<path d="M124.60000000000001 302.9L124.60000000000001 308.1L119.4 305.5Z" fill="#d0b8c0" stroke="#773344" stroke-width=".9"/>
<path d="M138.0 302.9L138.0 308.1L132.8 305.5Z" fill="#d0b8c0" stroke="#773344" stroke-width=".9"/>
<path d="M151.5 302.9L151.5 308.1L146.3 305.5Z" fill="#d0b8c0" stroke="#773344" stroke-width=".9"/>
<path d="M178.39999999999998 302.9L178.39999999999998 308.1L173.2 305.5Z" fill="#d0b8c0" stroke="#773344" stroke-width=".9"/>
<path d="M313.09999999999997 302.9L313.09999999999997 308.1L307.9 305.5Z" fill="#d0b8c0" stroke="#773344" stroke-width=".9"/>
<path d="M447.7 302.9L447.7 308.1L442.5 305.5Z" fill="#d0b8c0" stroke="#773344" stroke-width=".9"/>
<path d="M65.9 235.8L65.9 241.0L71.1 235.8L71.1 241.0Z" fill="#112244" stroke="#112244" stroke-width=".7"/>
<path d="M79.4 254.00000000000003L79.4 259.20000000000005L84.6 254.00000000000003L84.6 259.20000000000005Z" fill="#112244" stroke="#112244" stroke-width=".7"/>
<path d="M92.80000000000001 292.2L92.80000000000001 297.40000000000003L98.0 292.2L98.0 297.40000000000003Z" fill="#112244" stroke="#112244" stroke-width=".7"/>
<path d="M106.30000000000001 302.29999999999995L106.30000000000001 307.5L111.5 302.29999999999995L111.5 307.5Z" fill="#112244" stroke="#112244" stroke-width=".7"/>
<path d="M119.80000000000001 302.9L119.80000000000001 308.1L125.0 302.9L125.0 308.1Z" fill="#112244" stroke="#112244" stroke-width=".7"/>
<path d="M133.20000000000002 302.9L133.20000000000002 308.1L138.4 302.9L138.4 308.1Z" fill="#112244" stroke="#112244" stroke-width=".7"/>
<path d="M146.70000000000002 302.9L146.70000000000002 308.1L151.9 302.9L151.9 308.1Z" fill="#112244" stroke="#112244" stroke-width=".7"/>
<path d="M173.6 302.9L173.6 308.1L178.79999999999998 302.9L178.79999999999998 308.1Z" fill="#112244" stroke="#112244" stroke-width=".7"/>
<path d="M308.29999999999995 302.9L308.29999999999995 308.1L313.5 302.9L313.5 308.1Z" fill="#112244" stroke="#112244" stroke-width=".7"/>
<path d="M442.9 302.9L442.9 308.1L448.1 302.9L448.1 308.1Z" fill="#112244" stroke="#112244" stroke-width=".7"/>
<rect x="466.5" y="134.5" width="53" height="95" fill="#d2d2d2" stroke="#222" stroke-width="1"/>
<path d="M470.4 144.0L473 141.0L475.6 144.0L473 147.0Z" fill="#6b3a48" stroke="#5a3040" stroke-width=".4"/>
<text x="482" y="147.8" font-size="10.3" textLength="33.5" lengthAdjust="spacing">CFP-90</text>
<path d="M470.4 156.9L475.6 156.9L473 162.1Z" fill="#c8f0c8" stroke="#229922" stroke-width="1.1"/>
<text x="482" y="162.9" font-size="10.3" textLength="33.5" lengthAdjust="spacing">CFP-80</text>
<path d="M470.3 176.5L475.7 176.5L473 171.2Z" fill="#444422" stroke="#333311" stroke-width=".5"/>
<text x="482" y="178.0" font-size="10.3" textLength="33.5" lengthAdjust="spacing">CFP-70</text>
<path d="M470.7 186.60000000000002L470.7 192.0L476 189.3Z" fill="#332244" stroke="#221133" stroke-width=".5"/>
<text x="482" y="193.1" font-size="10.3" textLength="33.5" lengthAdjust="spacing">CFP-50</text>
<path d="M475.2 201.8L475.2 207.0L470 204.4Z" fill="#d0b8c0" stroke="#773344" stroke-width=".9"/>
<text x="482" y="208.2" font-size="10.3" textLength="33.5" lengthAdjust="spacing">CFP-30</text>
<path d="M470.4 216.9L470.4 222.1L475.6 216.9L475.6 222.1Z" fill="#112244" stroke="#112244" stroke-width=".7"/>
<text x="482" y="223.3" font-size="10.3" textLength="33.5" lengthAdjust="spacing">CFP-10</text>
</svg>
</div>
</body></html>
